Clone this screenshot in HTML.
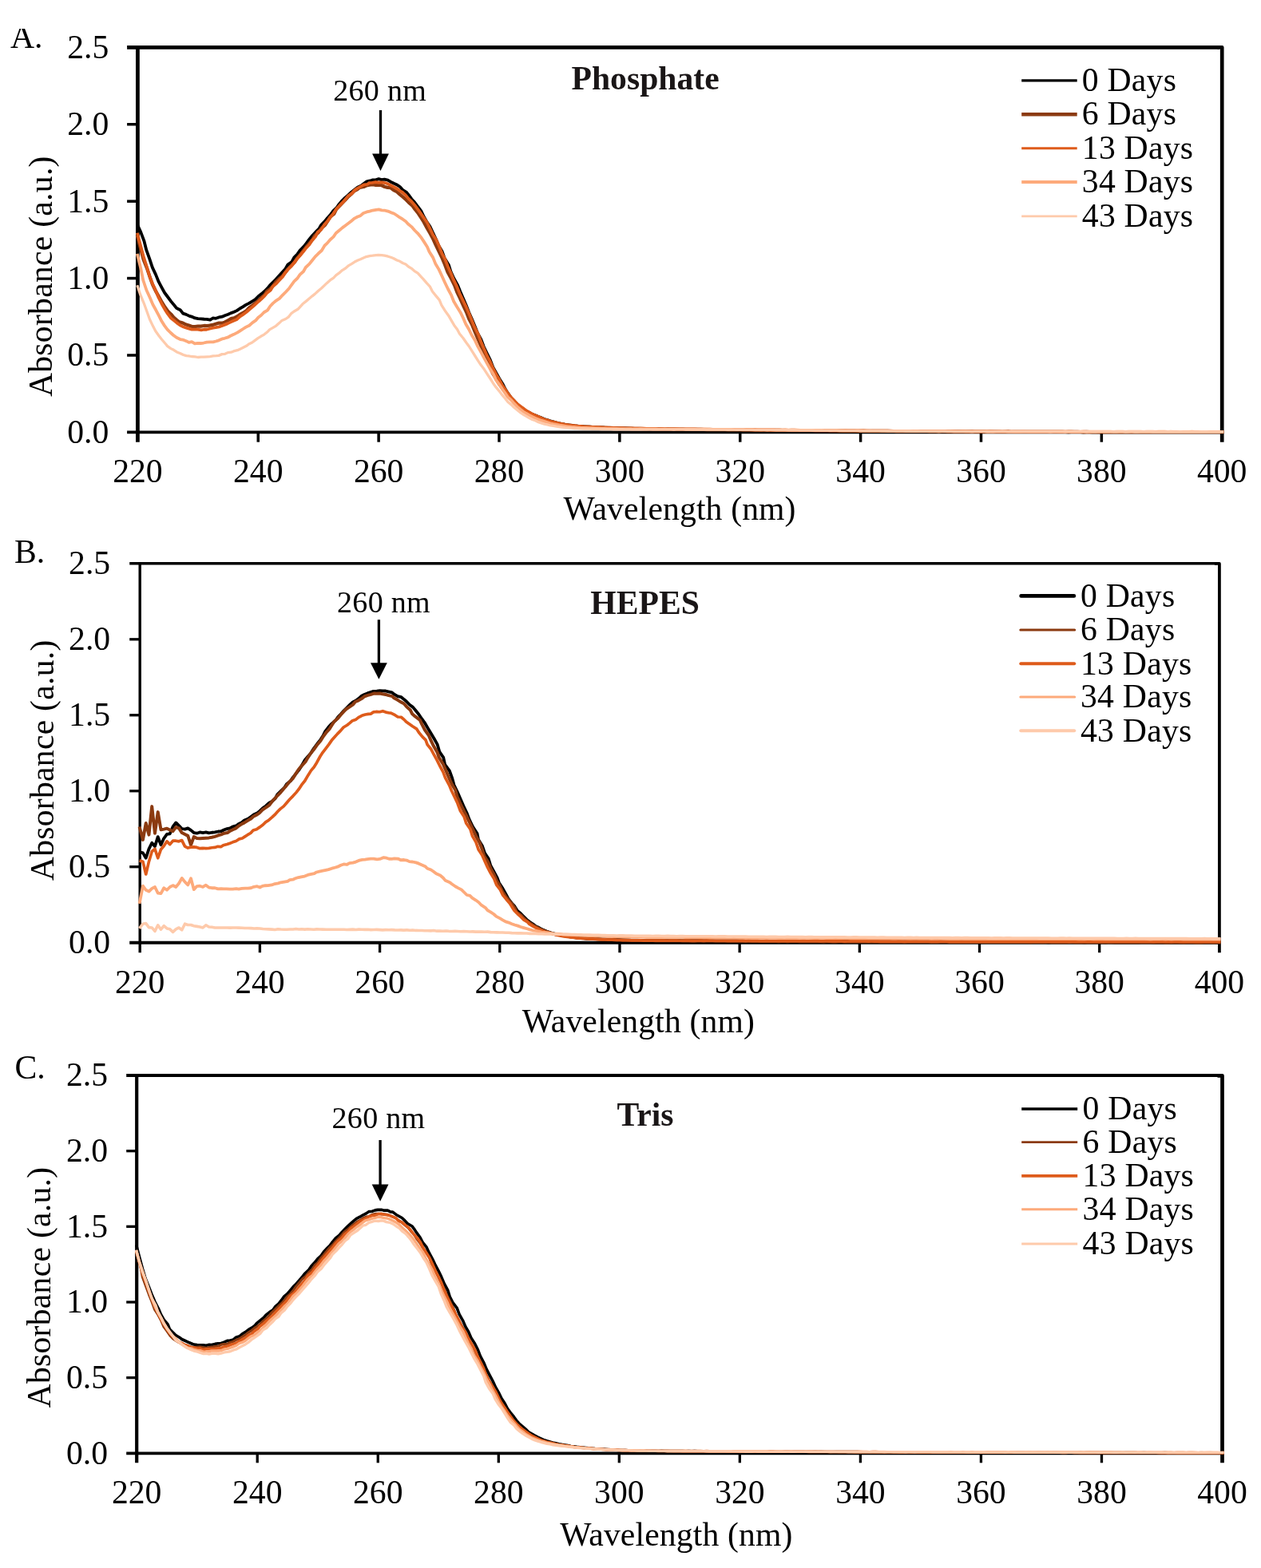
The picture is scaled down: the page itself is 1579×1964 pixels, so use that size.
<!DOCTYPE html>
<html lang="en">
<head>
<meta charset="utf-8">
<title>UV absorbance spectra in Phosphate, HEPES and Tris buffers</title>
<style>
html, body { margin: 0; padding: 0; background: #ffffff; }
body { width: 1579px; height: 1964px; overflow: hidden; }
svg { display: block; }
svg text { font-family: "Liberation Serif", serif; }
</style>
</head>
<body>
<svg width="1579" height="1964" viewBox="0 0 1579 1964">
<rect x="0" y="0" width="1579" height="1964" fill="#ffffff"/>
<g id="panel-A">
<g stroke="#000" fill="none" stroke-linecap="butt">
<line x1="172.4" y1="59.3" x2="172.4" y2="553.7" stroke-width="4.8"/>
<line x1="159.1" y1="541.4" x2="1530.2" y2="541.4" stroke-width="3.6"/>
<line x1="159.1" y1="59.3" x2="1527.2" y2="59.3" stroke-width="4.8"/>
<path d="M1524.2 59.25 H1530.2 V553.7" stroke-width="4.7" stroke-linejoin="round"/>
<line x1="159.1" y1="444.98" x2="172.4" y2="444.98" stroke-width="3.5"/>
<line x1="159.1" y1="348.56" x2="172.4" y2="348.56" stroke-width="3.5"/>
<line x1="159.1" y1="252.14" x2="172.4" y2="252.14" stroke-width="3.5"/>
<line x1="159.1" y1="155.72" x2="172.4" y2="155.72" stroke-width="3.5"/>
<line x1="323.27" y1="541.4" x2="323.27" y2="553.7" stroke-width="3.5"/>
<line x1="474.13" y1="541.4" x2="474.13" y2="553.7" stroke-width="3.5"/>
<line x1="625" y1="541.4" x2="625" y2="553.7" stroke-width="3.5"/>
<line x1="775.87" y1="541.4" x2="775.87" y2="553.7" stroke-width="3.5"/>
<line x1="926.73" y1="541.4" x2="926.73" y2="553.7" stroke-width="3.5"/>
<line x1="1077.6" y1="541.4" x2="1077.6" y2="553.7" stroke-width="3.5"/>
<line x1="1228.47" y1="541.4" x2="1228.47" y2="553.7" stroke-width="3.5"/>
<line x1="1379.33" y1="541.4" x2="1379.33" y2="553.7" stroke-width="3.5"/>
</g>
<g fill="none" stroke-linejoin="round" stroke-linecap="butt">
<path d="M171.8 281.03 L176.21 290.65 L180.47 301.97 L183.29 313.17 L187.31 324.33 L190.86 335.08 L195.01 343.89 L198.67 352.98 L202.63 360.41 L206.15 366.75 L210.29 372.24 L214.25 377.6 L217.72 381.8 L221.2 386.08 L225.71 388.17 L229.16 392.64 L233.09 393.89 L237.2 395.9 L240.91 396.93 L244.28 398.49 L247.94 399.09 L251.57 399.39 L255.74 399.75 L258.84 399.79 L263.2 400.62 L266.51 398.48 L270.3 398.83 L274.05 397.46 L278.12 396.65 L281.46 395.23 L285.69 393.76 L289.18 392.1 L292.95 390.8 L296.48 389.1 L300.66 386.22 L304 384.37 L307.81 381.89 L311.82 379.88 L315.59 377.58 L319.62 375.09 L323.38 371.21 L327.45 368.08 L331.01 365.07 L334.94 361.23 L337.97 357.46 L342.14 353.25 L345.57 349.8 L349.6 345.34 L353.48 341.11 L357.4 336.79 L360.27 331.65 L365.37 327.94 L368.37 322.35 L372.4 318.43 L375.48 313.82 L380.34 308.89 L383.51 304.83 L387.51 299.39 L390.98 295.22 L395.19 290.67 L399.35 286.59 L402.16 281.78 L406.47 277.36 L410.12 272.97 L413.68 269.02 L417.1 264.43 L421.79 259.78 L424.48 255.93 L428.65 251.03 L431.83 247.93 L436.27 244.23 L440 240.67 L443.71 237.74 L447.63 234.78 L451.97 232.65 L455.49 230.02 L459.21 227.37 L463.42 226.46 L466.86 225.33 L470.5 225.37 L474.21 224.11 L477.68 225.14 L481.38 224.72 L485.59 225.69 L489.04 227.68 L493.26 229.77 L496.52 231.17 L500.86 234.04 L504.15 237.73 L509.02 240.84 L511.87 244.4 L515.3 249.16 L519.31 253.58 L523.13 258.79 L527.23 264.06 L530.73 271.48 L534.03 277.18 L538.47 283.89 L541.84 290.97 L545.87 299.56 L549.19 307.53 L553.48 314.62 L556.45 323 L561.79 331.67 L564.43 340.06 L568.25 348.44 L573.2 357.38 L576.2 364.88 L579.79 373.19 L583.66 382.18 L587.14 391.25 L590.94 399.83 L594.64 408.63 L598.16 417.46 L602.47 425.44 L605.88 434.52 L610.01 443.07 L613.97 451.18 L617.41 460.12 L621.19 466.88 L625.22 474.21 L629.18 480.47 L632.66 487.33 L635.89 492.44 L640.14 498.35 L643.91 502.18 L647.5 506.5 L651.32 509.9 L655.37 512.77 L659.32 515.21 L662.76 517 L666.57 519.05 L670.12 520.37 L674.16 522.03 L678.05 523.39 L681.63 524.97 L685.36 526.09 L689.14 527.34 L692.79 528.31 L696.64 529.44 L700.48 530.32 L704.18 531.06 L708 531.79 L711.77 532.33 L715.47 532.95 L719.24 533.38 L723.07 533.67 L726.91 534.09 L730.74 534.38 L734.4 534.53 L738.27 534.75 L741.87 535.01 L745.69 535.19 L749.51 535.33 L753.22 535.47 L756.99 535.72 L760.77 535.84 L764.54 535.95 L768.32 536.06 L772.06 536.18 L775.87 536.29 L779.63 536.46 L783.5 536.5 L787.18 536.6 L790.95 536.79 L794.69 536.86 L798.42 536.88 L802.24 536.91 L806.07 537.04 L809.82 537.18 L813.52 537.24 L817.43 537.27 L821.1 537.31 L824.86 537.39 L828.63 537.49 L832.51 537.52 L836.23 537.57 L839.95 537.64 L843.75 537.64 L847.58 537.78 L851.26 537.84 L855.07 537.82 L858.85 537.89 L862.57 537.94 L866.33 538.01 L870.13 537.93 L873.94 538.11 L877.78 538.18 L881.51 538.23 L885.26 538.17 L888.97 538.31 L892.76 538.3 L896.61 538.42 L900.36 538.38 L904.06 538.41 L907.89 538.52 L911.64 538.55 L915.49 538.62 L919.22 538.57 L922.98 538.6 L926.78 538.72 L930.47 538.74 L934.3 538.77 L938.06 538.79 L941.83 538.81 L945.63 538.93 L949.4 538.94 L953.23 538.98 L956.91 538.99 L960.64 538.99 L964.47 539.03 L968.25 539.13 L972.05 539.16 L975.75 539.18 L979.57 539.21 L983.38 539.25 L987.12 539.22 L990.82 539.38 L994.57 539.32 L998.45 539.45 L1002.12 539.36 L1005.92 539.45 L1009.74 539.44 L1013.44 539.45 L1017.28 539.45 L1021.05 539.52 L1024.83 539.55 L1028.53 539.55 L1032.32 539.65 L1036.07 539.76 L1039.93 539.66 L1043.71 539.75 L1047.37 539.75 L1051.24 539.77 L1055 539.85 L1058.79 539.8 L1062.45 539.79 L1066.26 539.87 L1070.01 539.9 L1073.76 539.86 L1077.68 539.93 L1081.37 539.92 L1085.13 540.06 L1089 540 L1092.65 540.04 L1096.47 540.02 L1100.25 540.13 L1104 540.14 L1107.8 540.15 L1111.56 540.16 L1115.36 540.19 L1119.14 540.15 L1122.82 540.17 L1126.54 540.18 L1130.38 540.24 L1134.2 540.32 L1137.99 540.29 L1141.75 540.28 L1145.54 540.36 L1149.21 540.36 L1153.01 540.41 L1156.73 540.43 L1160.6 540.39 L1164.4 540.44 L1168.07 540.39 L1171.87 540.43 L1175.7 540.49 L1179.46 540.46 L1183.18 540.54 L1186.89 540.52 L1190.73 540.51 L1194.45 540.64 L1198.34 540.59 L1202.04 540.61 L1205.79 540.68 L1209.54 540.64 L1213.39 540.65 L1217.12 540.7 L1220.83 540.7 L1224.72 540.71 L1228.48 540.73 L1232.29 540.74 L1235.93 540.86 L1239.76 540.79 L1243.56 540.8 L1247.38 540.75 L1251.01 540.82 L1254.84 540.84 L1258.69 540.81 L1262.42 540.94 L1266.24 540.84 L1269.89 540.8 L1273.71 540.92 L1277.47 540.94 L1281.26 540.98 L1284.99 541.06 L1288.85 540.95 L1292.56 541.02 L1296.37 540.94 L1300.16 541.04 L1303.95 541.01 L1307.67 541.14 L1311.35 541.1 L1315.22 541 L1319.03 541.1 L1322.75 541.08 L1326.54 541.07 L1330.24 541.15 L1334.02 541.14 L1337.91 541.23 L1341.55 541.17 L1345.45 541.18 L1349.11 541.09 L1352.93 541.2 L1356.7 541.25 L1360.48 541.15 L1364.21 541.22 L1367.99 541.34 L1371.76 541.27 L1375.57 541.28 L1379.4 541.25 L1383.08 541.29 L1386.87 541.34 L1390.57 541.34 L1394.4 541.32 L1398.21 541.28 L1401.99 541.41 L1405.71 541.38 L1409.56 541.29 L1413.34 541.3 L1417.12 541.37 L1420.78 541.42 L1424.59 541.31 L1428.38 541.38 L1432.14 541.33 L1435.88 541.38 L1439.63 541.37 L1443.45 541.42 L1447.22 541.39 L1450.95 541.44 L1454.78 541.35 L1458.49 541.36 L1462.35 541.36 L1466.09 541.38 L1469.83 541.39 L1473.67 541.43 L1477.39 541.33 L1481.34 541.33 L1484.97 541.42 L1488.66 541.4 L1492.53 541.43 L1496.3 541.34 L1500.08 541.41 L1503.73 541.4 L1507.54 541.36 L1511.41 541.35 L1515.05 541.33 L1518.83 541.41 L1522.63 541.32 L1526.4 541.36 L1532.25 541.35" stroke="#000000" stroke-width="3.8"/>
<path d="M171.8 294.61 L175.94 310.91 L179.69 325.25 L184.27 336.85 L187.9 347.65 L190.9 356.15 L194.84 364.36 L199.03 371.7 L202.8 378.64 L206.3 384.33 L210.37 389.9 L214.07 393.43 L217.53 397.58 L221.34 400.87 L224.62 403.34 L228.97 404.53 L232.99 406.58 L236.33 407.55 L240.38 409.05 L244.19 409.07 L248.01 408.53 L251.38 408.61 L255.64 407.96 L259.49 408.03 L262.54 407.59 L266.48 406.9 L270 405.71 L274.26 404.56 L278.31 404.69 L281.79 403.43 L285.6 401.24 L289.32 399.16 L293.02 398.41 L296.87 396.49 L300.45 393.81 L304.71 391.75 L308.45 389.13 L311.7 385.79 L315.89 382.75 L319.54 379.92 L323.59 376.62 L327.38 372.57 L331.27 369.68 L333.91 365.25 L338.55 361.68 L342.08 357.93 L345.36 353.25 L349.32 349.42 L353.91 345.52 L357.52 340.88 L360.62 336.88 L364.4 332.98 L369.11 328.07 L372.09 323.33 L376.22 318.78 L379.79 314.09 L383 309.91 L387.31 304.83 L391.46 299.87 L393.96 295.33 L398.79 291.16 L402.08 286.37 L406.89 281.98 L410.68 276.31 L413.21 271.88 L418.31 267.89 L421.14 262.06 L425.05 258.12 L429.11 253.82 L432.78 250.01 L436.29 246.19 L440.65 242.41 L443.81 239.06 L447.62 237.12 L450.41 234.94 L455.47 234 L458.65 232.55 L462.46 231.79 L466.68 231.17 L469.76 231.8 L474.12 231.81 L477.66 231.99 L481.78 234.01 L485.32 234.87 L489.17 235.28 L492.83 238.07 L497 240.26 L500.17 243.12 L503.9 246.24 L507.56 249.33 L511.73 253.6 L516.15 257.4 L519.64 262.26 L523.26 266.59 L527.04 272.39 L530.58 278 L534.34 284.91 L538.24 291.84 L542.42 299.53 L545.82 307.14 L549.67 315.12 L553.66 323.39 L557.04 331.39 L560.53 340.71 L564.88 348.81 L569.18 357.45 L572.14 365.57 L575.89 373.38 L580.05 382.58 L583.93 390.76 L587.19 399.25 L591.36 407.41 L594.68 415.77 L598.71 425.24 L602.07 433.3 L606.22 442.58 L609.45 450.97 L613.09 458.87 L617.01 467.64 L620.82 473.91 L624.82 480.59 L628.72 486.14 L632.4 490.71 L636.57 495.94 L639.96 500.21 L643.76 503 L647.51 506.29 L650.91 509.08 L654.74 511.99 L658.49 514.45 L662.62 516.86 L666.39 518.83 L670.72 520.76 L674.2 522.24 L677.94 523.83 L681.3 525.68 L685.6 527.01 L689.18 528.14 L693.01 528.82 L696.55 529.83 L700.28 530.7 L704.13 531.28 L708.05 531.96 L711.7 532.48 L715.49 532.9 L719.34 533.53 L723.01 533.84 L726.76 534.06 L730.63 534.4 L734.43 534.65 L738.15 534.84 L741.91 535.01 L745.72 535.22 L749.51 535.38 L753.16 535.54 L757.07 535.68 L760.82 535.81 L764.59 535.94 L768.32 536.09 L772.18 536.22 L775.86 536.27 L779.59 536.42 L783.37 536.52 L787.17 536.65 L790.99 536.69 L794.72 536.79 L798.59 536.95 L802.28 536.93 L806.06 537.11 L809.88 537.01 L813.59 537.18 L817.38 537.21 L821.18 537.24 L825.01 537.38 L828.65 537.41 L832.44 537.46 L836.19 537.46 L839.94 537.57 L843.73 537.53 L847.55 537.61 L851.26 537.65 L855.06 537.71 L858.78 537.79 L862.57 537.74 L866.4 537.86 L870.12 537.91 L873.9 537.9 L877.71 537.94 L881.5 537.99 L885.3 538.1 L889.02 538.06 L892.82 538.12 L896.56 538.14 L900.3 538.18 L904.13 538.26 L907.83 538.25 L911.64 538.29 L915.46 538.31 L919.21 538.36 L922.99 538.49 L926.73 538.51 L930.51 538.54 L934.26 538.55 L938.07 538.62 L941.86 538.63 L945.55 538.61 L949.36 538.68 L953.08 538.78 L956.93 538.75 L960.61 538.74 L964.42 538.84 L968.21 538.84 L972.02 538.9 L975.79 538.97 L979.55 538.98 L983.31 539.04 L987.06 539.01 L990.75 539.04 L994.55 539.05 L998.44 539.14 L1002.2 539.2 L1006 539.15 L1009.64 539.2 L1013.48 539.19 L1017.24 539.22 L1021.02 539.32 L1024.8 539.35 L1028.61 539.4 L1032.33 539.41 L1036.11 539.35 L1039.94 539.48 L1043.69 539.52 L1047.41 539.52 L1051.11 539.51 L1054.89 539.54 L1058.74 539.64 L1062.46 539.64 L1066.33 539.7 L1070.08 539.66 L1073.91 539.73 L1077.62 539.64 L1081.34 539.72 L1085.17 539.75 L1088.89 539.81 L1092.67 539.84 L1096.48 539.85 L1100.29 539.93 L1104.02 539.85 L1107.76 539.95 L1111.48 539.88 L1115.38 540.02 L1119.17 540.01 L1122.76 540.14 L1126.64 540.02 L1130.42 540.1 L1134.22 540.05 L1137.95 540.13 L1141.7 540.15 L1145.51 540.08 L1149.27 540.15 L1153.08 540.11 L1156.88 540.17 L1160.61 540.27 L1164.35 540.29 L1168.13 540.3 L1171.84 540.26 L1175.53 540.31 L1179.37 540.34 L1183.18 540.27 L1186.99 540.36 L1190.73 540.37 L1194.54 540.48 L1198.27 540.47 L1202.1 540.45 L1205.84 540.5 L1209.6 540.53 L1213.43 540.47 L1217.13 540.56 L1220.82 540.56 L1224.68 540.53 L1228.49 540.52 L1232.33 540.53 L1236.04 540.51 L1239.81 540.6 L1243.51 540.68 L1247.19 540.62 L1251.06 540.57 L1254.86 540.73 L1258.61 540.7 L1262.42 540.69 L1266.24 540.73 L1269.92 540.78 L1273.65 540.78 L1277.52 540.79 L1281.28 540.73 L1285.07 540.74 L1288.8 540.81 L1292.6 540.91 L1296.38 540.83 L1300.17 540.87 L1303.94 540.82 L1307.62 540.9 L1311.38 540.86 L1315.13 540.89 L1318.89 540.91 L1322.65 540.87 L1326.51 540.95 L1330.33 540.92 L1334.01 540.98 L1337.88 540.9 L1341.58 540.95 L1345.36 540.96 L1349.12 540.97 L1352.92 541.01 L1356.7 541.03 L1360.5 540.91 L1364.21 541.05 L1368.08 541.03 L1371.81 541.09 L1375.63 541.11 L1379.38 541.04 L1383.09 541.02 L1386.9 541.11 L1390.7 541.05 L1394.41 541.11 L1398.18 541.08 L1401.95 541.12 L1405.72 541.09 L1409.53 541.13 L1413.31 541.08 L1417.03 541.06 L1420.77 541.03 L1424.59 541.15 L1428.45 541.16 L1432.14 541.11 L1435.87 541.14 L1439.68 541.1 L1443.43 541.14 L1447.19 541.18 L1450.97 541.21 L1454.71 541.19 L1458.59 541.15 L1462.33 541.19 L1466.07 541.19 L1469.82 541.12 L1473.6 541.16 L1477.32 541.17 L1481.17 541.21 L1484.87 541.18 L1488.79 541.08 L1492.47 541.16 L1496.27 541.1 L1500.05 541.23 L1503.76 541.19 L1507.48 541.15 L1511.33 541.26 L1515.09 541.17 L1518.96 541.21 L1522.7 541.21 L1526.36 541.2 L1532.25 541.22" stroke="#8b3a10" stroke-width="4.2"/>
<path d="M171.8 291.69 L176.15 308.05 L179.92 322.21 L184.06 334.97 L187.33 346.13 L191.03 355.54 L195.44 364.94 L198.54 372.73 L202.46 380.45 L206.37 387.44 L209.9 392.98 L213.79 398.23 L218.33 401.77 L221.45 404.39 L225.02 407.01 L228.51 408.95 L232.62 410.43 L235.76 411.42 L240.11 412.54 L244.18 412.63 L247.5 412.7 L252.06 413.39 L255.5 412.75 L258.6 412.73 L263.48 411.47 L265.72 410.84 L270.07 410.18 L274.25 409.33 L277.52 408.3 L282.21 406.38 L285.24 405.13 L289.61 403.11 L293.71 401.33 L296.74 399.96 L300.62 396.38 L303.76 394.39 L308.37 391.05 L311.58 388.25 L316.27 384.35 L319.13 381.81 L323.65 377.71 L327.24 374.62 L331.29 370.7 L333.92 367.35 L338.78 363.47 L341.74 358.6 L345.91 355.32 L349.75 351.08 L354.1 346.37 L356.72 342.29 L360.94 337.14 L364.94 333.36 L368.58 328.71 L371.76 324.63 L375.98 319.74 L379.73 315.33 L383.49 310.43 L387.32 306.54 L390.7 301.24 L395.18 296.31 L397.76 290.84 L402.25 287.62 L405.58 282.13 L410.09 277.06 L413.62 272.49 L417.05 267.82 L421.02 262.07 L425.21 257.41 L429.32 253.4 L432.59 249.59 L436.16 245.34 L440.46 242.39 L444 238.38 L447.12 236.1 L451.6 233.61 L455.59 231.29 L459.85 230.93 L462.36 229.11 L466.07 228.89 L470.38 228.02 L474.04 228.64 L477.68 228.39 L482.15 229.09 L486.19 230.57 L489.33 232.26 L493.55 234.39 L497.24 236.52 L500.3 238.84 L504.22 241.02 L508.33 244.93 L511.5 248.84 L515.22 252.26 L519.48 257.16 L523.19 262.09 L526.96 267.39 L530.42 272.41 L534.96 278.97 L538.14 285.59 L542.02 293.69 L546.34 300.58 L549.71 308.08 L553.53 317.54 L557.47 324.98 L560.83 333.79 L564.46 341.77 L568.14 350.66 L571.93 358.38 L575.49 367.32 L579.44 375.6 L583.73 384.4 L587.47 393.02 L590.73 401.03 L594.13 409.43 L598.79 418.53 L602.39 428.23 L605.86 436.35 L609.71 445.19 L613.76 452.91 L617.47 461.41 L621.6 469.44 L625.44 475.85 L628.88 482.27 L632.89 488.13 L636.36 493.2 L639.98 497.69 L643.83 501.83 L647.75 505.9 L651.5 508.8 L655.68 511.87 L658.96 514.4 L663.08 516.58 L666.58 518.78 L670.25 520.52 L674.18 522.09 L677.91 523.73 L681.43 525.38 L685.61 526.32 L689.2 527.74 L692.91 528.5 L696.53 529.43 L700.57 530.47 L704.22 531.05 L707.97 531.8 L711.74 532.28 L715.54 532.88 L719.28 533.24 L723.07 533.69 L726.83 533.97 L730.64 534.36 L734.39 534.62 L738.17 534.75 L741.84 534.85 L745.62 535.12 L749.5 535.24 L753.21 535.39 L757.06 535.58 L760.74 535.7 L764.63 535.82 L768.41 535.94 L772.02 536.08 L775.78 536.15 L779.7 536.24 L783.41 536.31 L787.2 536.37 L790.93 536.45 L794.8 536.59 L798.49 536.63 L802.27 536.68 L806.01 536.73 L809.72 536.82 L813.67 536.88 L817.37 536.98 L821.13 537.01 L824.88 537.06 L828.63 536.98 L832.44 537.12 L836.23 537.17 L839.9 537.19 L843.71 537.22 L847.54 537.27 L851.32 537.36 L855.09 537.34 L858.8 537.38 L862.65 537.46 L866.43 537.48 L870.18 537.49 L873.94 537.54 L877.69 537.63 L881.57 537.63 L885.21 537.68 L888.96 537.75 L892.77 537.8 L896.56 537.81 L900.28 537.79 L904.16 537.93 L907.89 537.87 L911.65 537.95 L915.44 537.96 L919.17 537.99 L922.97 538.03 L926.71 538.1 L930.49 538.14 L934.3 538.16 L938.03 538.2 L941.78 538.25 L945.56 538.25 L949.38 538.32 L953.11 538.38 L956.89 538.34 L960.61 538.49 L964.44 538.5 L968.26 538.52 L972.01 538.54 L975.8 538.65 L979.57 538.61 L983.29 538.61 L987.16 538.79 L990.85 538.77 L994.58 538.73 L998.44 538.79 L1002.24 538.87 L1005.97 538.87 L1009.72 538.85 L1013.51 538.96 L1017.25 538.98 L1021.06 539.04 L1024.8 539.11 L1028.53 539.04 L1032.34 539.18 L1036.1 539.17 L1039.88 539.25 L1043.71 539.29 L1047.43 539.21 L1051.18 539.32 L1054.95 539.31 L1058.65 539.27 L1062.54 539.4 L1066.21 539.33 L1070.03 539.46 L1073.8 539.49 L1077.55 539.5 L1081.35 539.52 L1085.12 539.54 L1088.84 539.63 L1092.73 539.65 L1096.4 539.6 L1100.28 539.63 L1103.9 539.71 L1107.7 539.69 L1111.55 539.73 L1115.3 539.77 L1119.09 539.82 L1122.86 539.82 L1126.7 539.87 L1130.39 539.83 L1134.2 539.9 L1137.94 539.94 L1141.71 539.97 L1145.43 540 L1149.17 540.04 L1153.04 540.07 L1156.82 540.11 L1160.54 540.09 L1164.24 540.14 L1168.06 540.1 L1171.88 540.07 L1175.71 540.16 L1179.43 540.15 L1183.17 540.22 L1186.95 540.25 L1190.74 540.34 L1194.45 540.24 L1198.28 540.36 L1202.07 540.33 L1205.85 540.25 L1209.63 540.28 L1213.46 540.31 L1217.14 540.34 L1220.96 540.4 L1224.7 540.45 L1228.48 540.48 L1232.24 540.45 L1235.98 540.45 L1239.69 540.39 L1243.56 540.49 L1247.37 540.53 L1251.19 540.52 L1254.82 540.55 L1258.63 540.57 L1262.45 540.49 L1266.18 540.55 L1269.95 540.64 L1273.63 540.58 L1277.42 540.58 L1281.26 540.61 L1285.08 540.57 L1288.74 540.66 L1292.57 540.64 L1296.38 540.68 L1300.1 540.61 L1303.9 540.72 L1307.61 540.64 L1311.5 540.64 L1315.15 540.69 L1318.95 540.71 L1322.76 540.65 L1326.51 540.73 L1330.27 540.75 L1334.14 540.75 L1337.86 540.71 L1341.62 540.75 L1345.35 540.84 L1349.23 540.85 L1352.94 540.83 L1356.75 540.73 L1360.47 540.88 L1364.15 540.79 L1368.08 540.81 L1371.8 540.84 L1375.62 540.89 L1379.38 540.85 L1383.11 540.83 L1386.86 540.88 L1390.64 540.86 L1394.34 540.87 L1398.29 540.83 L1402.02 540.87 L1405.75 540.89 L1409.47 540.97 L1413.23 540.93 L1417.04 540.91 L1420.8 540.93 L1424.63 540.89 L1428.35 540.89 L1432.09 540.91 L1435.92 541 L1439.71 540.96 L1443.42 540.91 L1447.21 540.95 L1450.99 540.93 L1454.79 540.97 L1458.51 540.94 L1462.23 540.99 L1466.14 540.95 L1469.91 540.94 L1473.65 540.93 L1477.33 540.95 L1481.1 540.93 L1484.98 541.07 L1488.73 540.96 L1492.48 541 L1496.24 540.98 L1500.01 541 L1503.8 541.07 L1507.56 540.97 L1511.31 541.05 L1515.11 540.98 L1518.92 541.06 L1522.68 541 L1526.39 540.98 L1532.25 541" stroke="#de5b1b" stroke-width="3.8"/>
<path d="M171.8 317.9 L176.3 336.39 L179.36 351.26 L183.45 363.52 L187.81 373 L191.41 381.47 L195.33 388.53 L199.19 395.93 L202.27 402.02 L205.95 407.87 L209.7 412.82 L213.62 416.78 L217.27 420.04 L221.04 422.78 L225.69 425.03 L228.93 425.56 L233.22 427.17 L236.52 428.94 L240.17 428.24 L243.91 430.46 L247.55 429.92 L251.34 430.02 L255 429.51 L259.01 428.65 L263.32 428.42 L266.85 428.37 L270.29 427.5 L273.94 426.33 L278.16 424.4 L281.11 423.77 L285.68 422.44 L288.47 420.75 L292.76 418.85 L297.53 416.41 L300.3 414.69 L304.34 412.01 L308.06 409.63 L312.09 407.72 L316.2 404.1 L320.15 401.4 L323.26 397.73 L327.16 394.7 L330.49 391.25 L334.96 388.63 L338.35 383.52 L341.79 379.89 L346.09 376.29 L349.94 373.84 L353.93 369.53 L358.01 365.51 L362.01 361.27 L364.74 357.26 L368.35 352.31 L372.46 348.5 L375.62 343.91 L379.99 339.97 L382.73 334.99 L387.35 330.7 L390.66 326.46 L394.76 321.31 L398.37 317.77 L402.84 313.77 L406.57 307.47 L409.74 304.64 L413.42 300.23 L417.54 296.67 L420.69 291.96 L424.61 288.75 L428.91 285.12 L432.51 282.48 L436.78 279.31 L439.8 276.9 L443.83 273.59 L447.72 271.52 L451.35 270.17 L455 267.02 L459.25 265.46 L462.94 264.62 L466.44 263.54 L470.83 262.84 L474.34 262.43 L478.08 263.35 L482.25 263.73 L485.75 264.62 L489.36 266.12 L493.37 267.51 L496.83 269.74 L500.3 272.2 L504.41 274.74 L508.01 277.31 L510.94 280.47 L515.38 284.1 L519.2 288.51 L523.13 292.34 L527.42 297.41 L530.79 302.64 L535 309.23 L537.52 315.15 L542.2 322.63 L545.21 330.17 L549.5 337.38 L553.28 345.57 L557 353.67 L560.99 361.98 L564.95 369.31 L568.16 377.46 L572.02 383.99 L576.51 391.16 L580.19 398.8 L583.31 406.07 L587.29 412.72 L590.73 419.75 L595.18 427.09 L598.28 433.9 L602.56 441.55 L606.03 448.18 L609.72 454.83 L613.87 462.38 L617.85 468.69 L620.86 475.6 L624.97 481.27 L629.27 487.8 L632.15 491.82 L635.89 497.37 L640.14 501.26 L643.79 505.39 L647.64 509.33 L651.58 512.72 L655.1 515.49 L658.76 517.77 L662.6 519.89 L666.48 521.86 L670.12 523.74 L673.88 525.2 L677.67 526.66 L681.62 527.87 L685.18 528.95 L689.11 530.3 L692.8 531.14 L696.65 531.87 L700.45 532.68 L704.19 533.23 L708.04 533.76 L711.77 534.27 L715.53 534.73 L719.2 535.01 L723.04 535.33 L726.82 535.64 L730.52 535.81 L734.38 535.97 L738.2 536.11 L741.95 536.24 L745.67 536.35 L749.48 536.47 L753.23 536.56 L757.02 536.63 L760.81 536.87 L764.53 536.91 L768.29 536.91 L772.12 536.94 L775.85 537.03 L779.65 537.15 L783.41 537.15 L787.21 537.15 L790.97 537.27 L794.64 537.3 L798.54 537.39 L802.19 537.27 L806 537.37 L809.83 537.46 L813.64 537.42 L817.37 537.48 L821.17 537.45 L824.91 537.57 L828.68 537.63 L832.45 537.52 L836.21 537.6 L840 537.59 L843.89 537.56 L847.55 537.53 L851.32 537.68 L855 537.67 L858.85 537.72 L862.73 537.63 L866.41 537.75 L870.15 537.75 L873.98 537.78 L877.65 537.74 L881.48 537.76 L885.23 537.82 L889.02 537.93 L892.75 537.93 L896.53 537.84 L900.31 537.87 L904.09 537.92 L907.88 537.93 L911.63 538 L915.51 538 L919.27 538.04 L922.98 538.07 L926.8 538.12 L930.54 538.16 L934.27 538.15 L937.95 538.2 L941.8 538.17 L945.54 538.3 L949.4 538.23 L953.16 538.41 L956.77 538.39 L960.71 538.33 L964.42 538.39 L968.14 538.48 L971.99 538.53 L975.85 538.48 L979.62 538.62 L983.32 538.52 L987.1 538.7 L990.84 538.64 L994.64 538.7 L998.45 538.72 L1002.13 538.81 L1005.92 538.8 L1009.71 538.83 L1013.5 538.84 L1017.3 538.91 L1021.04 538.91 L1024.71 538.95 L1028.51 539.03 L1032.25 539.05 L1036.17 539.03 L1039.88 539.14 L1043.66 539.19 L1047.33 539.2 L1051.2 539.23 L1054.97 539.31 L1058.76 539.31 L1062.53 539.33 L1066.25 539.35 L1070.07 539.44 L1073.83 539.41 L1077.65 539.51 L1081.39 539.43 L1085.16 539.52 L1088.94 539.57 L1092.71 539.67 L1096.43 539.7 L1100.27 539.63 L1104.01 539.66 L1107.71 539.63 L1111.52 539.75 L1115.37 539.78 L1119.02 539.81 L1122.87 539.78 L1126.54 539.87 L1130.43 539.85 L1134.2 539.95 L1137.92 539.97 L1141.72 540.06 L1145.48 540.02 L1149.27 540 L1153 540.09 L1156.77 540.06 L1160.6 540.14 L1164.43 540.09 L1168.06 540.19 L1171.87 540.2 L1175.65 540.23 L1179.39 540.18 L1183.19 540.21 L1186.97 540.21 L1190.8 540.21 L1194.49 540.32 L1198.26 540.33 L1202.04 540.39 L1205.89 540.28 L1209.57 540.43 L1213.32 540.36 L1217.17 540.44 L1220.85 540.39 L1224.75 540.44 L1228.46 540.4 L1232.25 540.47 L1235.95 540.52 L1239.77 540.44 L1243.66 540.55 L1247.36 540.46 L1251.09 540.43 L1254.91 540.56 L1258.68 540.5 L1262.39 540.53 L1266.22 540.55 L1270.01 540.65 L1273.77 540.59 L1277.53 540.56 L1281.22 540.51 L1285.04 540.58 L1288.75 540.63 L1292.59 540.56 L1296.36 540.63 L1300.16 540.7 L1303.89 540.66 L1307.69 540.65 L1311.52 540.62 L1315.24 540.73 L1318.99 540.69 L1322.76 540.61 L1326.55 540.69 L1330.28 540.7 L1334.02 540.63 L1337.84 540.67 L1341.66 540.67 L1345.34 540.59 L1349.17 540.69 L1352.97 540.71 L1356.65 540.7 L1360.44 540.7 L1364.21 540.71 L1368.07 540.73 L1371.78 540.66 L1375.55 540.62 L1379.35 540.67 L1383.13 540.61 L1386.89 540.68 L1390.61 540.72 L1394.41 540.85 L1398.22 540.75 L1401.88 540.66 L1405.78 540.71 L1409.42 540.78 L1413.26 540.69 L1417.03 540.69 L1420.87 540.75 L1424.65 540.75 L1428.4 540.76 L1432.14 540.81 L1435.88 540.72 L1439.66 540.76 L1443.42 540.73 L1447.19 540.78 L1450.99 540.74 L1454.74 540.77 L1458.58 540.72 L1462.31 540.79 L1466.08 540.75 L1469.89 540.84 L1473.66 540.82 L1477.36 540.78 L1481.13 540.8 L1484.95 540.8 L1488.76 540.78 L1492.5 540.71 L1496.22 540.86 L1500.03 540.85 L1503.74 540.81 L1507.51 540.81 L1511.32 540.84 L1515.11 540.9 L1518.92 540.88 L1522.54 540.84 L1526.46 540.87 L1532.25 540.85" stroke="#fdaa7b" stroke-width="3.8"/>
<path d="M171.8 357.23 L175.8 369.22 L180.29 380.05 L183.98 390.28 L187.36 399.79 L191.08 407.61 L194.65 414.57 L199.07 420.73 L202.62 425.26 L206.71 429.97 L209.71 433.62 L213.97 436.62 L217.48 438.35 L221.42 440.98 L225.39 442.47 L229.66 444.49 L233.32 445.69 L236.16 445.82 L239.62 446.5 L244.36 446.8 L247.95 447.5 L251.63 447.17 L255.09 447.07 L259.87 446.79 L262.96 446.55 L267 445.91 L270.82 445.7 L273.86 445.38 L278.03 443.63 L281.78 443.35 L285.3 441.64 L289.45 441.21 L292.47 439.89 L297.35 438.68 L300.66 437.15 L304.62 435.23 L308.52 433.31 L311.56 431.02 L315.74 428.95 L318.92 426.58 L322.95 423.59 L326.68 421.29 L330.68 419.07 L334.54 416.05 L337.53 412.86 L341.48 410.62 L345.76 408.09 L349.72 404.59 L353.02 401.42 L357.69 399.51 L361.14 397.15 L364.43 392.92 L367.91 390.23 L373.02 387.3 L376.02 384.06 L378.94 380.82 L383.84 376.85 L386.87 374.33 L391.03 370.85 L394.44 368.13 L398.34 364.49 L402.57 361.05 L406.37 357.34 L409.2 354.65 L413.42 350.97 L417.59 348.1 L420.93 344.58 L424.71 341.9 L428.49 338.57 L432.69 336 L436.66 332.59 L440.55 330.3 L444.04 328.06 L448.16 325.98 L451.3 324.79 L454.66 323.3 L458.57 321.56 L462.77 320.54 L466.45 320.23 L470.94 319.7 L473.81 319.37 L477.91 319.66 L481.67 320.22 L485.97 321.21 L489.31 322.24 L492.5 323.55 L497.16 326.04 L500.75 327.3 L504.31 329.48 L508.05 331.11 L511.46 333.99 L515.05 336.07 L518.75 339.32 L523.18 342.12 L527.01 346.35 L529.85 349.38 L534.13 354.34 L538.53 359.16 L541.39 365.04 L545.93 370.63 L550.31 375.88 L552.83 382.04 L556.92 388.7 L561.59 395.16 L565.03 401.18 L568.71 407.44 L572.68 412.79 L575.4 418.01 L579.96 423.48 L583.92 429.29 L587.27 433.75 L591.3 440.21 L594.81 445.75 L598.64 451.91 L602.09 457.09 L606.29 462.54 L610.33 468.84 L613.73 474.01 L617.3 479.7 L621.22 485.19 L625.59 490.35 L628.57 494.44 L632.65 499.14 L636 503.49 L640.21 506.88 L643.62 510.25 L647.62 513.4 L651.39 516.55 L655.28 519.24 L658.62 521.09 L662.75 523.64 L666.48 525.46 L670.3 526.73 L674.17 528.68 L677.76 529.89 L681.62 531.07 L685.43 531.96 L689.05 532.85 L692.8 533.44 L696.73 534.16 L700.42 534.59 L704.15 535.16 L708 535.55 L711.74 535.83 L715.54 536.2 L719.29 536.48 L723.01 536.56 L726.72 536.9 L730.6 536.98 L734.39 537.16 L738.19 537.2 L742 537.26 L745.65 537.25 L749.52 537.34 L753.18 537.48 L756.98 537.5 L760.87 537.65 L764.54 537.69 L768.36 537.75 L772.21 537.73 L775.83 537.68 L779.61 537.73 L783.4 537.8 L787.31 537.84 L791.04 537.81 L794.76 537.85 L798.44 537.85 L802.29 537.83 L806.05 537.89 L809.85 537.88 L813.64 537.8 L817.38 537.89 L821.11 537.88 L824.95 537.82 L828.67 537.91 L832.49 537.86 L836.15 537.9 L839.99 537.9 L843.73 537.99 L847.52 537.92 L851.35 537.86 L855.03 537.87 L858.84 538 L862.64 537.93 L866.39 538.01 L870.09 537.97 L873.99 538.04 L877.63 538.02 L881.5 537.97 L885.28 538.06 L889.05 537.98 L892.76 538.07 L896.51 538.13 L900.32 538.14 L904.07 538.17 L907.87 538.14 L911.66 538.23 L915.36 538.11 L919.2 538.08 L922.96 538.25 L926.72 538.2 L930.47 538.27 L934.31 538.32 L938.01 538.31 L941.83 538.31 L945.53 538.33 L949.32 538.47 L953.11 538.47 L956.93 538.39 L960.66 538.49 L964.43 538.45 L968.26 538.44 L971.96 538.56 L975.84 538.61 L979.47 538.65 L983.37 538.6 L987.05 538.73 L990.89 538.73 L994.64 538.68 L998.42 538.79 L1002.26 538.82 L1006 538.87 L1009.72 538.91 L1013.52 538.87 L1017.28 538.99 L1021.03 539.06 L1024.8 539.09 L1028.56 538.99 L1032.42 539.08 L1036.08 539.06 L1039.87 539.24 L1043.63 539.14 L1047.55 539.19 L1051.19 539.28 L1055.04 539.35 L1058.67 539.36 L1062.41 539.31 L1066.3 539.38 L1070.09 539.36 L1073.83 539.4 L1077.59 539.49 L1081.34 539.53 L1085.16 539.55 L1088.96 539.5 L1092.69 539.63 L1096.43 539.71 L1100.19 539.64 L1104.05 539.73 L1107.8 539.73 L1111.58 539.72 L1115.38 539.8 L1119.12 539.87 L1122.86 539.89 L1126.52 539.94 L1130.4 539.92 L1134.17 539.99 L1138.02 540.01 L1141.71 539.97 L1145.51 540.05 L1149.25 540.09 L1153 540.09 L1156.83 540.12 L1160.5 540.05 L1164.28 540.2 L1168.12 540.18 L1171.92 540.17 L1175.68 540.22 L1179.5 540.19 L1183.24 540.25 L1186.91 540.3 L1190.79 540.3 L1194.47 540.33 L1198.29 540.3 L1202.07 540.33 L1205.8 540.37 L1209.59 540.33 L1213.38 540.4 L1217.17 540.53 L1220.9 540.37 L1224.61 540.4 L1228.43 540.44 L1232.23 540.44 L1235.93 540.5 L1239.8 540.54 L1243.63 540.5 L1247.23 540.49 L1251.15 540.49 L1254.85 540.44 L1258.59 540.47 L1262.46 540.53 L1266.13 540.51 L1269.95 540.54 L1273.68 540.65 L1277.48 540.61 L1281.23 540.61 L1285.02 540.55 L1288.75 540.62 L1292.58 540.6 L1296.28 540.59 L1300.09 540.57 L1303.91 540.58 L1307.69 540.6 L1311.36 540.68 L1315.21 540.62 L1319.03 540.61 L1322.76 540.66 L1326.52 540.71 L1330.3 540.63 L1334.05 540.73 L1337.79 540.66 L1341.67 540.69 L1345.37 540.7 L1349.12 540.64 L1352.99 540.61 L1356.69 540.72 L1360.51 540.73 L1364.31 540.68 L1368.1 540.68 L1371.76 540.74 L1375.52 540.7 L1379.35 540.7 L1383.06 540.67 L1386.85 540.65 L1390.63 540.67 L1394.47 540.65 L1398.28 540.7 L1402.01 540.71 L1405.73 540.62 L1409.54 540.75 L1413.33 540.74 L1417.07 540.7 L1420.89 540.73 L1424.6 540.75 L1428.37 540.68 L1432.08 540.72 L1435.86 540.68 L1439.62 540.7 L1443.44 540.74 L1447.24 540.78 L1451 540.84 L1454.74 540.8 L1458.56 540.78 L1462.27 540.74 L1466.08 540.75 L1469.83 540.78 L1473.6 540.86 L1477.39 540.76 L1481.11 540.81 L1484.95 540.8 L1488.65 540.83 L1492.5 540.8 L1496.28 540.78 L1500.1 540.84 L1503.73 540.77 L1507.54 540.77 L1511.34 540.77 L1515.13 540.81 L1518.83 540.79 L1522.63 540.87 L1526.44 540.9 L1532.25 540.86" stroke="#fecaab" stroke-width="3.3"/>
</g>
<g font-size="41.67" fill="#000">
<clipPath id="clipA"><rect x="0" y="36" width="160" height="60"/></clipPath>
<text x="13" y="59.9" clip-path="url(#clipA)">A.</text>
<text x="136.3" y="554.8" text-anchor="end">0.0</text>
<text x="136.3" y="458.38" text-anchor="end">0.5</text>
<text x="136.3" y="361.96" text-anchor="end">1.0</text>
<text x="136.3" y="265.54" text-anchor="end">1.5</text>
<text x="136.3" y="169.12" text-anchor="end">2.0</text>
<text x="136.3" y="72.7" text-anchor="end">2.5</text>
<text x="172.4" y="604.1" text-anchor="middle">220</text>
<text x="323.27" y="604.1" text-anchor="middle">240</text>
<text x="474.13" y="604.1" text-anchor="middle">260</text>
<text x="625" y="604.1" text-anchor="middle">280</text>
<text x="775.87" y="604.1" text-anchor="middle">300</text>
<text x="926.73" y="604.1" text-anchor="middle">320</text>
<text x="1077.6" y="604.1" text-anchor="middle">340</text>
<text x="1228.47" y="604.1" text-anchor="middle">360</text>
<text x="1379.33" y="604.1" text-anchor="middle">380</text>
<text x="1530.2" y="604.1" text-anchor="middle">400</text>
<text x="851" y="650.6" text-anchor="middle" letter-spacing="0.13">Wavelength (nm)</text>
<text transform="translate(65 346.2) rotate(-90)" text-anchor="middle" letter-spacing="0.27">Absorbance (a.u.)</text>
<text x="808.1" y="112.3" text-anchor="middle" font-weight="bold" fill="#1a1617">Phosphate</text>
<text x="475.7" y="126.1" text-anchor="middle" font-size="38" letter-spacing="0.3">260 nm</text>
<text x="1354.8" y="113.7" letter-spacing="0.25">0 Days</text>
<text x="1354.8" y="156.2" letter-spacing="0.25">6 Days</text>
<text x="1354.8" y="198.6" letter-spacing="0.25">13 Days</text>
<text x="1354.8" y="241" letter-spacing="0.25">34 Days</text>
<text x="1354.8" y="283.8" letter-spacing="0.25">43 Days</text>
</g>
<g fill="none" stroke-linecap="butt">
<line x1="1279.2" y1="100.8" x2="1348.7" y2="100.8" stroke="#000000" stroke-width="3.3"/>
<line x1="1279.2" y1="143.3" x2="1348.7" y2="143.3" stroke="#8b3a10" stroke-width="4.5"/>
<line x1="1279.2" y1="185.7" x2="1348.7" y2="185.7" stroke="#de5b1b" stroke-width="3"/>
<line x1="1279.2" y1="228.1" x2="1348.7" y2="228.1" stroke="#fdaa7b" stroke-width="4"/>
<line x1="1279.2" y1="270.9" x2="1348.7" y2="270.9" stroke="#fecaab" stroke-width="2.6"/>
</g>
<line x1="476.5" y1="138" x2="476.5" y2="193.6" stroke="#000" stroke-width="3.3"/>
<polygon points="466.1,192.6 486.9,192.6 476.5,213.9" fill="#000"/>
</g>
<g id="panel-B">
<g stroke="#000" fill="none" stroke-linecap="butt">
<line x1="175.2" y1="705.8" x2="175.2" y2="1193.2" stroke-width="3.4"/>
<line x1="162.2" y1="1180.7" x2="1526.9" y2="1180.7" stroke-width="4"/>
<line x1="162.2" y1="705.8" x2="1523.9" y2="705.8" stroke-width="3.6"/>
<path d="M1520.9 705.9 H1526.9 V1193.2" stroke-width="3.8" stroke-linejoin="round"/>
<line x1="162.2" y1="1085.72" x2="175.2" y2="1085.72" stroke-width="3.3"/>
<line x1="162.2" y1="990.74" x2="175.2" y2="990.74" stroke-width="3.3"/>
<line x1="162.2" y1="895.76" x2="175.2" y2="895.76" stroke-width="3.3"/>
<line x1="162.2" y1="800.78" x2="175.2" y2="800.78" stroke-width="3.3"/>
<line x1="325.39" y1="1180.7" x2="325.39" y2="1193.2" stroke-width="3.3"/>
<line x1="475.58" y1="1180.7" x2="475.58" y2="1193.2" stroke-width="3.3"/>
<line x1="625.77" y1="1180.7" x2="625.77" y2="1193.2" stroke-width="3.3"/>
<line x1="775.96" y1="1180.7" x2="775.96" y2="1193.2" stroke-width="3.3"/>
<line x1="926.14" y1="1180.7" x2="926.14" y2="1193.2" stroke-width="3.3"/>
<line x1="1076.33" y1="1180.7" x2="1076.33" y2="1193.2" stroke-width="3.3"/>
<line x1="1226.52" y1="1180.7" x2="1226.52" y2="1193.2" stroke-width="3.3"/>
<line x1="1376.71" y1="1180.7" x2="1376.71" y2="1193.2" stroke-width="3.3"/>
</g>
<g fill="none" stroke-linejoin="round" stroke-linecap="butt">
<path d="M174.6 1067.12 L178.95 1068.4 L182.71 1074.74 L186.46 1063.32 L190.22 1055.73 L193.97 1060.17 L197.73 1048.13 L201.48 1058.27 L205.24 1050.03 L208.99 1044.97 L212.75 1044.33 L216.5 1035.46 L220.26 1030.4 L224.01 1034.2 L227.77 1038 L231.52 1038.63 L235.28 1037.36 L239.03 1039.9 L242.78 1043.07 L246.54 1043.7 L250.29 1042.43 L254.05 1043.07 L257.8 1042.43 L261.56 1043.38 L265.31 1042.75 L269.07 1042.43 L273.28 1041.51 L276.79 1041.22 L280.89 1039.26 L284.4 1038.14 L287.9 1037.35 L291.89 1035.28 L296.3 1034.08 L298.5 1032.12 L302.71 1030.2 L305.94 1027.48 L310.27 1025.81 L313.89 1023.25 L317.93 1020.26 L321.98 1018.39 L325.43 1015.71 L328.92 1012.28 L332.88 1009.42 L336.71 1006 L340.78 1003.65 L344.82 999.85 L347.3 995.12 L352.16 990.44 L356.08 986.69 L358.81 982.24 L363.92 978.13 L366.52 974.1 L370.98 968.57 L374.94 963.63 L377.77 958.91 L381.37 952.58 L385.4 947.67 L389.35 943.13 L393.03 937.4 L397.15 931.79 L401.27 926.57 L404.83 920.93 L407 916.48 L411.27 910.83 L414.9 906.91 L420.36 902.08 L423.25 898.05 L426.96 894.23 L430.41 890.32 L434.24 886.47 L438.42 882.36 L441.77 879.39 L445.69 877.6 L449.94 874.33 L452.72 871.72 L456.16 870.06 L460.07 868.4 L464.73 866.83 L467.66 865.84 L471.88 865.73 L475.68 865.13 L479.2 865.28 L482.9 865.51 L486.16 866.32 L490.91 867.42 L494.08 869.92 L497.93 872.21 L502.51 873.19 L505.93 876.08 L508.88 878.44 L512.93 882.75 L517.14 885.87 L520.74 890.25 L524.56 894.95 L528.07 900.26 L531.49 904.81 L535.52 911.77 L538.89 917.29 L543.5 924.97 L547.75 932.7 L550.28 941.54 L555.24 948.9 L557.12 957.54 L562.95 965.66 L566.21 974.7 L568.55 983.35 L572.65 991.81 L576.68 1001.03 L580.38 1009.6 L584.42 1018.01 L587.59 1026.38 L592.04 1035.47 L597.52 1043.94 L598.95 1051.39 L604.01 1059.76 L607.04 1068.58 L611.69 1075.54 L614.34 1084.22 L618.55 1091.82 L622.68 1099.65 L624.88 1105.71 L629.5 1112.81 L633.13 1119.33 L636.44 1125.7 L640.91 1131.44 L643.9 1134.62 L647.8 1140.85 L651.78 1143.96 L655.95 1148.26 L659.6 1151.91 L663.64 1154.98 L667.49 1157.55 L670.87 1160.31 L674.64 1161.83 L678.53 1164.15 L682.07 1165.43 L685.77 1167.11 L689.47 1168.35 L693.43 1169.25 L697.22 1170.26 L700.79 1171.16 L704.69 1171.87 L708.38 1172.35 L712.05 1173.16 L715.89 1173.58 L719.71 1174.11 L723.3 1174.55 L727.15 1174.8 L730.92 1175.23 L734.76 1175.54 L738.44 1175.7 L742.26 1175.97 L745.96 1176.16 L749.7 1176.37 L753.49 1176.52 L757.29 1176.53 L760.96 1176.9 L764.73 1177.08 L768.42 1177.01 L772.12 1177.13 L775.95 1177.32 L779.76 1177.46 L783.46 1177.55 L787.21 1177.67 L790.9 1177.81 L794.81 1177.92 L798.49 1177.97 L802.24 1178.03 L806.02 1177.95 L809.84 1178.1 L813.54 1178.15 L817.28 1178.19 L821.05 1178.13 L824.77 1178.08 L828.39 1178.32 L832.26 1178.19 L836.04 1178.36 L839.7 1178.33 L843.47 1178.31 L847.3 1178.29 L851.07 1178.39 L854.83 1178.37 L858.6 1178.36 L862.27 1178.38 L866.12 1178.41 L869.73 1178.46 L873.58 1178.42 L877.3 1178.43 L881.05 1178.53 L884.81 1178.62 L888.66 1178.59 L892.24 1178.68 L896.09 1178.64 L899.88 1178.57 L903.6 1178.73 L907.27 1178.67 L910.99 1178.54 L914.96 1178.68 L918.73 1178.75 L922.39 1178.76 L926.16 1178.68 L929.87 1178.72 L933.64 1178.85 L937.3 1178.92 L941.13 1178.81 L944.88 1178.88 L948.72 1178.83 L952.51 1178.96 L956.31 1178.84 L959.93 1178.92 L963.7 1178.97 L967.44 1179.08 L971.27 1179.08 L974.97 1179.1 L978.86 1179.04 L982.46 1179.13 L986.26 1179.16 L990.04 1179.1 L993.71 1179.07 L997.55 1179.12 L1001.24 1179.22 L1005.06 1179.2 L1008.82 1179.23 L1012.59 1179.16 L1016.3 1179.23 L1020.01 1179.27 L1023.85 1179.25 L1027.47 1179.26 L1031.19 1179.24 L1034.93 1179.42 L1038.77 1179.29 L1042.6 1179.33 L1046.21 1179.29 L1049.98 1179.44 L1053.78 1179.41 L1057.51 1179.47 L1061.46 1179.41 L1065.14 1179.44 L1068.75 1179.46 L1072.66 1179.48 L1076.32 1179.49 L1080.1 1179.56 L1083.91 1179.41 L1087.51 1179.57 L1091.33 1179.55 L1095.1 1179.63 L1098.73 1179.64 L1102.55 1179.69 L1106.33 1179.71 L1110.16 1179.66 L1113.95 1179.68 L1117.69 1179.61 L1121.32 1179.63 L1125.2 1179.68 L1128.95 1179.82 L1132.54 1179.67 L1136.41 1179.74 L1140.14 1179.82 L1143.99 1179.76 L1147.7 1179.72 L1151.38 1179.78 L1155.21 1179.85 L1158.91 1179.66 L1162.69 1179.77 L1166.4 1179.92 L1170.26 1179.87 L1173.81 1179.82 L1177.71 1179.84 L1181.46 1179.83 L1185.35 1179.83 L1189.01 1179.88 L1192.85 1179.91 L1196.36 1179.84 L1200.16 1179.95 L1204.02 1179.86 L1207.81 1179.84 L1211.41 1179.95 L1215.21 1179.93 L1219 1179.9 L1222.82 1179.97 L1226.53 1179.95 L1230.42 1180.08 L1234.03 1179.97 L1237.69 1179.96 L1241.49 1180.03 L1245.25 1180.06 L1249.08 1179.94 L1252.79 1180.08 L1256.45 1180.01 L1260.32 1180 L1264.11 1179.94 L1267.89 1180.02 L1271.62 1180.07 L1275.32 1180.05 L1279.03 1180.16 L1282.85 1179.86 L1286.5 1180.16 L1290.4 1180.08 L1294.06 1180.14 L1297.97 1180.09 L1301.67 1180.12 L1305.49 1180.15 L1309.18 1180.12 L1312.97 1180.24 L1316.55 1180.09 L1320.46 1180.12 L1324.12 1180.11 L1327.98 1180.19 L1331.53 1180.07 L1335.45 1180.09 L1339.14 1180.07 L1342.91 1180.17 L1346.62 1180.21 L1350.4 1180.16 L1354.11 1180.14 L1357.89 1180.24 L1361.63 1180.21 L1365.47 1180.11 L1369.21 1180.14 L1372.89 1180.14 L1376.71 1180.18 L1380.48 1180.13 L1384.19 1180.24 L1387.92 1180.2 L1391.71 1180.17 L1395.58 1180.27 L1399.28 1180.28 L1403.01 1180.28 L1406.79 1180.23 L1410.53 1180.1 L1414.24 1180.28 L1417.99 1180.18 L1421.73 1180.34 L1425.56 1180.27 L1429.23 1180.19 L1433 1180.2 L1436.75 1180.21 L1440.55 1180.16 L1444.29 1180.28 L1447.97 1180.29 L1451.94 1180.26 L1455.42 1180.24 L1459.33 1180.23 L1463.02 1180.37 L1466.83 1180.32 L1470.62 1180.26 L1474.32 1180.31 L1478.1 1180.35 L1481.87 1180.31 L1485.54 1180.26 L1489.41 1180.21 L1493.23 1180.34 L1496.76 1180.41 L1500.57 1180.33 L1504.35 1180.38 L1508.1 1180.37 L1511.9 1180.28 L1515.62 1180.37 L1519.35 1180.47 L1523.11 1180.46 L1528.5 1180.35" stroke="#000000" stroke-width="3.8"/>
<path d="M174.6 1035.46 L178.95 1051.93 L182.71 1031.03 L186.46 1045.6 L190.22 1010.13 L193.97 1043.7 L197.73 1017.11 L201.48 1039.27 L205.24 1038.63 L208.99 1037.68 L212.75 1039.58 L216.5 1041.17 L220.26 1036.1 L224.01 1037.36 L227.77 1043.07 L231.52 1044.97 L235.28 1046.87 L239.03 1058.27 L242.78 1048.13 L246.54 1050.03 L250.29 1050.35 L254.05 1050.03 L257.8 1049.72 L261.56 1049.4 L265.31 1048.77 L269.07 1047.82 L273.32 1046.27 L276.8 1045.4 L280.77 1043.7 L284.84 1043.03 L287.96 1040.8 L292.02 1039.03 L295.09 1037.62 L298.43 1034.93 L303.09 1031.81 L305.74 1030.59 L310.16 1027.83 L314.16 1025.51 L317.2 1022.7 L321.81 1020.39 L325.03 1018.06 L329.1 1013.96 L333.08 1011.42 L337.37 1008.32 L340.97 1003.46 L343.66 1000.7 L347.52 996.49 L351.42 992.6 L355.58 987.49 L358.42 984.33 L362.93 978.8 L366.98 974.74 L370.21 969.38 L373.69 964.03 L377.19 959.83 L382.45 954.21 L385.25 949.27 L389.11 943.5 L392.81 938.99 L396.68 933.54 L401.37 928.04 L404.76 922.49 L408.79 917.03 L412.49 913.08 L415.59 908.15 L418.71 903.42 L423.13 899.67 L426.21 895.89 L430.79 890.92 L433.4 888.24 L438.92 884.61 L441.87 882.66 L444.96 878.98 L448.92 877.3 L452.87 875.09 L456.52 872.24 L460.52 870.93 L464.54 869.89 L468.84 868.44 L471.22 868.67 L475.4 868.49 L479.05 869.3 L482.94 869.96 L485.84 870.87 L491.16 872.13 L493.34 874.27 L497.57 876.57 L501.62 879.14 L505.72 881.19 L509.39 885.43 L513.69 889.19 L515.97 893.94 L519.94 897.39 L525.86 901.84 L528.27 907.19 L531.95 914.23 L536.81 920.96 L539.7 927.59 L543.04 934.55 L547.49 942.21 L549.7 948.75 L554.94 957.24 L558.34 964.97 L561.85 973.5 L565.94 982.47 L570.19 989.56 L572.42 997.85 L576.66 1007.24 L580.55 1015.23 L584.31 1022.31 L588.54 1031.26 L592.5 1039.62 L595.93 1047.19 L600.57 1055.44 L603.94 1064.26 L606.4 1072.42 L610.96 1079.52 L614.85 1088.64 L618.61 1095.26 L621.81 1102.88 L625.82 1109.46 L629.16 1116.9 L633.05 1122.66 L637.01 1127.43 L641.17 1132.57 L644.75 1137.68 L646.94 1142.61 L652.31 1146.31 L655.73 1150.11 L659.18 1153.14 L662.93 1155.85 L667.21 1158.65 L671.08 1161.08 L674.52 1162.89 L678.26 1164.55 L682.35 1166.21 L685.95 1167.41 L689.65 1168.52 L693.49 1169.83 L697.13 1170.76 L700.85 1171.12 L704.81 1172.06 L708.44 1172.62 L712.2 1173.13 L715.85 1173.63 L719.62 1174.19 L723.41 1174.49 L727.04 1174.89 L730.9 1175.24 L734.62 1175.47 L738.48 1175.81 L742.08 1175.91 L746.04 1176.12 L749.77 1176.28 L753.41 1176.49 L757.19 1176.69 L760.92 1176.78 L764.69 1176.85 L768.36 1177.16 L772.23 1177.23 L775.99 1177.3 L779.75 1177.45 L783.43 1177.51 L787.22 1177.69 L790.94 1177.65 L794.7 1177.72 L798.48 1177.8 L802.24 1177.91 L805.97 1177.92 L809.73 1178 L813.54 1178.12 L817.34 1178.06 L821 1178.13 L824.82 1178.27 L828.65 1178.11 L832.31 1178.19 L836.06 1178.13 L839.81 1178.3 L843.53 1178.34 L847.41 1178.32 L851.09 1178.31 L854.73 1178.4 L858.59 1178.45 L862.2 1178.46 L866.05 1178.42 L869.86 1178.47 L873.63 1178.47 L877.38 1178.49 L881.08 1178.46 L884.69 1178.6 L888.66 1178.49 L892.3 1178.46 L896.07 1178.65 L899.91 1178.63 L903.65 1178.69 L907.51 1178.64 L911.16 1178.73 L914.88 1178.72 L918.64 1178.63 L922.32 1178.79 L926.12 1178.72 L929.92 1178.68 L933.69 1178.9 L937.43 1178.86 L941.18 1178.9 L944.92 1178.89 L948.68 1178.88 L952.53 1178.99 L956.18 1178.9 L959.96 1178.88 L963.63 1178.94 L967.46 1179 L971.3 1179.03 L975.01 1179.13 L978.8 1179.05 L982.43 1179.05 L986.22 1179.13 L990 1179.12 L993.69 1179.05 L997.47 1179.04 L1001.38 1179.14 L1004.94 1179.25 L1008.73 1179.16 L1012.56 1179.17 L1016.34 1179.33 L1019.95 1179.09 L1023.71 1179.21 L1027.54 1179.37 L1031.26 1179.4 L1035.11 1179.29 L1038.91 1179.32 L1042.51 1179.38 L1046.23 1179.38 L1050 1179.37 L1053.63 1179.35 L1057.56 1179.4 L1061.36 1179.39 L1065.07 1179.44 L1068.93 1179.42 L1072.6 1179.47 L1076.35 1179.5 L1080.01 1179.41 L1083.83 1179.56 L1087.64 1179.48 L1091.33 1179.51 L1095.1 1179.62 L1098.83 1179.58 L1102.6 1179.64 L1106.25 1179.63 L1110.12 1179.7 L1113.76 1179.64 L1117.52 1179.7 L1121.39 1179.7 L1125.12 1179.78 L1128.93 1179.66 L1132.59 1179.7 L1136.4 1179.75 L1140.32 1179.78 L1143.76 1179.86 L1147.63 1179.61 L1151.48 1179.8 L1155.14 1179.7 L1159.01 1179.63 L1162.69 1179.79 L1166.43 1179.92 L1170.17 1179.8 L1173.86 1179.79 L1177.75 1179.86 L1181.45 1179.87 L1185.21 1179.85 L1189.05 1179.9 L1192.81 1179.93 L1196.54 1179.88 L1200.31 1179.88 L1203.8 1179.8 L1207.77 1179.89 L1211.52 1179.95 L1215.24 1180 L1219.04 1179.92 L1222.68 1179.96 L1226.49 1179.98 L1230.25 1180 L1234.07 1180 L1237.83 1179.9 L1241.58 1180.05 L1245.37 1180.01 L1249.03 1179.96 L1252.74 1180.02 L1256.56 1179.97 L1260.35 1179.95 L1264.05 1180.03 L1267.74 1180.1 L1271.54 1180.06 L1275.41 1180.11 L1279.07 1180.11 L1282.94 1180.03 L1286.52 1180.07 L1290.3 1180.13 L1293.98 1180.06 L1297.88 1180 L1301.59 1180.04 L1305.3 1180.19 L1309.03 1180.12 L1312.84 1180.11 L1316.65 1180.13 L1320.5 1180.15 L1324.12 1180.12 L1328 1180.18 L1331.76 1180.11 L1335.39 1180.14 L1339.11 1180.09 L1342.85 1180.12 L1346.75 1180.14 L1350.45 1180.1 L1354.12 1180.21 L1358 1180.19 L1361.72 1180.14 L1365.28 1180.07 L1369.2 1180.13 L1373 1180.23 L1376.77 1180.18 L1380.43 1180.24 L1384.3 1180.18 L1388 1180.15 L1391.77 1180.1 L1395.47 1180.3 L1399.28 1180.32 L1403.09 1180.2 L1406.71 1180.22 L1410.43 1180.3 L1414.23 1180.21 L1417.96 1180.29 L1421.76 1180.34 L1425.63 1180.22 L1429.38 1180.14 L1433 1180.25 L1436.65 1180.27 L1440.51 1180.27 L1444.27 1180.19 L1448.1 1180.26 L1451.84 1180.23 L1455.55 1180.31 L1459.24 1180.38 L1463.12 1180.4 L1466.83 1180.24 L1470.62 1180.21 L1474.33 1180.35 L1478.02 1180.28 L1481.85 1180.42 L1485.56 1180.31 L1489.27 1180.31 L1493.13 1180.36 L1496.85 1180.44 L1500.54 1180.44 L1504.42 1180.38 L1508.13 1180.33 L1511.93 1180.32 L1515.65 1180.33 L1519.31 1180.39 L1523.06 1180.21 L1528.5 1180.4" stroke="#8b3a10" stroke-width="4"/>
<path d="M174.6 1077.89 L178.95 1079.17 L182.71 1094.99 L186.46 1079.17 L190.22 1066.5 L193.97 1063.32 L197.73 1074.74 L201.48 1063.97 L205.24 1059.52 L208.99 1053.83 L212.75 1057.62 L216.5 1053.2 L220.26 1053.2 L224.01 1053.83 L227.77 1052.57 L231.52 1060.17 L235.28 1062.07 L239.03 1061.12 L242.78 1060.8 L246.54 1061.42 L250.29 1062.7 L254.05 1062.37 L257.8 1062.7 L261.56 1062.37 L265.31 1061.75 L269.07 1061.42 L272.71 1060.34 L276.91 1060.59 L279.55 1058.8 L284.33 1057.51 L287.99 1056.22 L291.45 1054.86 L295.53 1053.45 L299.61 1050.91 L303.38 1049.99 L306.28 1048.14 L310.02 1045.71 L313.83 1043.51 L317.03 1040.01 L321.32 1038.73 L325.04 1036.14 L329.34 1032.97 L332.77 1029.61 L336.09 1027.72 L340.97 1023.46 L343.9 1020.68 L347.92 1016.31 L351.11 1013.1 L355.26 1009.89 L358.41 1006.3 L362.72 1001.31 L366.84 997.1 L371.13 992.38 L374.21 988.43 L377.62 983.15 L381.76 978 L385.72 971.15 L389.5 965.14 L393.08 960.98 L396.67 955.2 L400.85 947.5 L404.06 942.53 L407.7 937.79 L411.66 932.64 L415.31 927.33 L419.13 923.05 L422.6 919.12 L426.33 915.41 L430.12 911 L434.7 908.21 L437.93 905.64 L441.38 902.65 L445.75 901.14 L448.89 898.56 L453.19 896.3 L457.4 895.03 L461.23 894.33 L464.27 894.07 L467.74 891.94 L471.16 891.47 L475.47 891.77 L479.24 890.66 L483.15 892.09 L487.44 893 L489.55 893.05 L494.67 895.73 L498.14 898.02 L502.32 898.23 L506.05 901.37 L508.52 904.09 L513.13 907.24 L516.62 909.8 L521.53 912.84 L524.53 917.54 L528.98 922.9 L533.02 926.89 L535.08 932.61 L539.47 937.96 L543.04 944.55 L546.91 951.58 L550.95 959.76 L554.85 966.79 L557.53 974.07 L562.64 983.57 L565.57 990.8 L569.19 998.16 L572.9 1006.02 L576.5 1015.86 L581.31 1023.37 L583.7 1030.92 L589.04 1038.84 L591.61 1047.34 L596 1054.92 L599.23 1064.31 L603.66 1071.06 L607.44 1079.44 L610.46 1086.26 L614.34 1093.65 L618.75 1100.88 L621.7 1108.28 L626.17 1113.99 L629.41 1120.83 L633.79 1126.2 L638.35 1131.46 L640.88 1135.62 L643.98 1140.39 L647.99 1144.54 L652.28 1148.44 L655.44 1151.82 L660.21 1154.6 L662.84 1157.44 L667.19 1160.1 L670.68 1161.88 L674.69 1163.98 L678.2 1165.42 L682.28 1167.16 L685.67 1168.12 L689.56 1169.31 L693.21 1170.05 L697.1 1171.23 L701.04 1171.87 L704.61 1172.63 L708.24 1173.05 L712.29 1173.72 L715.97 1174.08 L719.5 1174.53 L723.4 1175.09 L727.14 1175.24 L730.92 1175.48 L734.59 1175.72 L738.4 1176.08 L742.22 1176.15 L745.94 1176.33 L749.53 1176.59 L753.34 1176.86 L757.14 1176.97 L760.97 1177.06 L764.66 1177.15 L768.45 1177.2 L772.22 1177.44 L775.97 1177.52 L779.68 1177.57 L783.34 1177.72 L787.2 1177.7 L790.93 1177.83 L794.77 1177.85 L798.62 1177.94 L802.22 1177.97 L805.89 1178.04 L809.66 1177.99 L813.47 1178.17 L817.26 1178.17 L821.09 1178.15 L824.65 1178.09 L828.5 1178.08 L832.26 1178.16 L835.96 1178.27 L839.76 1178.16 L843.62 1178.2 L847.31 1178.11 L851.03 1178.23 L854.73 1178.26 L858.55 1178.21 L862.3 1178.22 L866.07 1178.28 L869.86 1178.32 L873.62 1178.24 L877.4 1178.12 L881.16 1178.34 L884.78 1178.19 L888.53 1178.16 L892.39 1178.23 L896.04 1178.25 L899.92 1178.27 L903.69 1178.26 L907.45 1178.24 L911.14 1178.46 L914.83 1178.31 L918.7 1178.42 L922.43 1178.36 L926.25 1178.36 L929.91 1178.4 L933.63 1178.47 L937.4 1178.41 L941.14 1178.36 L944.9 1178.44 L948.63 1178.47 L952.42 1178.57 L956.17 1178.57 L959.89 1178.37 L963.65 1178.64 L967.44 1178.55 L971.22 1178.62 L974.95 1178.57 L978.57 1178.6 L982.53 1178.55 L986.25 1178.54 L990.09 1178.66 L993.78 1178.65 L997.39 1178.68 L1001.17 1178.73 L1005.02 1178.58 L1008.67 1178.72 L1012.45 1178.75 L1016.29 1178.65 L1020.03 1178.72 L1023.77 1178.75 L1027.47 1178.84 L1031.27 1178.76 L1035.05 1178.71 L1038.85 1178.8 L1042.55 1178.97 L1046.3 1178.93 L1050.08 1178.89 L1053.76 1178.93 L1057.49 1179.04 L1061.29 1179.02 L1065.05 1178.86 L1068.79 1178.87 L1072.66 1178.87 L1076.31 1178.94 L1080.01 1179.02 L1083.81 1178.96 L1087.55 1179.05 L1091.27 1179.02 L1095.1 1179.06 L1098.91 1179.08 L1102.59 1179.19 L1106.28 1179.07 L1110.11 1179.03 L1113.9 1179.07 L1117.69 1179.13 L1121.39 1179.11 L1125.15 1179.14 L1128.85 1179.16 L1132.65 1179.28 L1136.35 1179.2 L1140.05 1179.2 L1143.96 1179.13 L1147.76 1179.25 L1151.46 1179.13 L1155.17 1179.19 L1158.98 1179.24 L1162.68 1179.27 L1166.5 1179.19 L1170.16 1179.38 L1173.99 1179.28 L1177.75 1179.22 L1181.44 1179.25 L1185.17 1179.25 L1188.95 1179.29 L1192.8 1179.43 L1196.41 1179.3 L1200.23 1179.23 L1203.96 1179.36 L1207.74 1179.35 L1211.45 1179.31 L1215.31 1179.35 L1218.96 1179.32 L1222.8 1179.37 L1226.63 1179.32 L1230.37 1179.35 L1233.98 1179.32 L1237.78 1179.37 L1241.57 1179.32 L1245.35 1179.37 L1249.05 1179.35 L1252.85 1179.46 L1256.52 1179.33 L1260.31 1179.37 L1264.06 1179.46 L1267.84 1179.43 L1271.63 1179.46 L1275.31 1179.28 L1279.08 1179.37 L1282.88 1179.43 L1286.59 1179.37 L1290.37 1179.41 L1294.24 1179.48 L1297.81 1179.44 L1301.65 1179.48 L1305.39 1179.36 L1309.05 1179.35 L1312.96 1179.36 L1316.55 1179.46 L1320.35 1179.35 L1324.15 1179.48 L1327.88 1179.51 L1331.66 1179.52 L1335.39 1179.28 L1339.06 1179.55 L1342.97 1179.32 L1346.74 1179.41 L1350.48 1179.49 L1354.14 1179.3 L1357.91 1179.43 L1361.72 1179.36 L1365.47 1179.52 L1369.13 1179.49 L1373.03 1179.45 L1376.6 1179.43 L1380.44 1179.37 L1384.18 1179.34 L1387.96 1179.42 L1391.82 1179.46 L1395.55 1179.42 L1399.15 1179.41 L1402.96 1179.51 L1406.78 1179.43 L1410.44 1179.41 L1414.26 1179.5 L1417.96 1179.48 L1421.76 1179.45 L1425.49 1179.47 L1429.26 1179.46 L1433.15 1179.5 L1436.77 1179.5 L1440.65 1179.5 L1444.33 1179.58 L1448.07 1179.42 L1451.78 1179.51 L1455.5 1179.46 L1459.35 1179.52 L1463.09 1179.44 L1466.73 1179.59 L1470.61 1179.45 L1474.33 1179.44 L1478.17 1179.6 L1481.88 1179.54 L1485.71 1179.55 L1489.32 1179.49 L1493.03 1179.62 L1496.87 1179.53 L1500.68 1179.52 L1504.26 1179.65 L1508.13 1179.59 L1511.94 1179.65 L1515.62 1179.59 L1519.55 1179.52 L1523.2 1179.55 L1528.5 1179.62" stroke="#de5b1b" stroke-width="3.7"/>
<path d="M174.6 1131.86 L178.95 1109.69 L182.71 1114.76 L186.46 1116.66 L190.22 1112.87 L193.97 1110.97 L197.73 1118.56 L201.48 1119.19 L205.24 1112.24 L208.99 1114.76 L212.75 1110.97 L216.5 1109.07 L220.26 1110.97 L224.01 1106.54 L227.77 1099.89 L231.52 1104.64 L235.28 1108.44 L239.03 1100.19 L242.78 1114.14 L246.54 1110.02 L250.29 1109.69 L254.05 1110.97 L257.8 1108.74 L261.56 1111.59 L265.31 1112.24 L269.07 1112.24 L273.02 1113.32 L276.93 1113.24 L279.97 1113.4 L283.71 1113.33 L287.84 1113.54 L291.43 1113.72 L295.9 1113.1 L298.93 1113.51 L302.8 1112.88 L307.09 1112.63 L310.34 1112.66 L314.16 1112.26 L317.83 1110.77 L322.01 1110.15 L325.47 1111.52 L328.5 1109.94 L332.29 1109.23 L335.58 1109.03 L340.27 1108.43 L344.2 1107.03 L348.41 1106.35 L351.48 1105.28 L355.94 1104.51 L360.24 1103.84 L362.94 1102.02 L366.65 1101.69 L369.77 1100.26 L373.62 1099.03 L378.43 1098.02 L381.43 1097.57 L385.37 1095.93 L388.58 1095.08 L393.56 1094.13 L396.29 1092.47 L400.8 1091.32 L404.26 1090.61 L408.07 1089.81 L411.35 1089.16 L415.64 1087.7 L419.17 1086.71 L422.87 1085.69 L426.71 1083.75 L430.44 1082.45 L434.23 1082.97 L437.56 1081.19 L441.81 1080.61 L445.52 1079.55 L449.14 1077.9 L453.49 1076.94 L457.06 1076.68 L459.96 1076.15 L464.09 1075.67 L467.93 1075.61 L472.13 1076.47 L475.69 1075.98 L480.48 1074.06 L483.99 1074.69 L487.19 1075.77 L490.58 1075.94 L493.75 1075.47 L498.81 1075.73 L501.78 1077.23 L505.86 1077.02 L509.15 1077.52 L512.63 1079.15 L516.6 1079.5 L520.87 1080.36 L524.44 1081.66 L527.91 1083.27 L532.44 1085.18 L534.99 1087.75 L539.72 1089.46 L542.94 1091.71 L546.25 1094.3 L551.33 1096.52 L554.86 1099.48 L557.43 1102.66 L563.23 1105.13 L565.41 1107.01 L570.13 1110.23 L573.41 1112.1 L577.85 1114.4 L580.25 1116.74 L584.56 1121 L588.45 1121.78 L591.18 1124.57 L595.8 1127.58 L599.48 1130.24 L602.77 1133.71 L607.62 1136.78 L610.61 1140.27 L614.3 1142.34 L618.26 1145 L621.44 1147.91 L625.79 1150.11 L629.44 1152.32 L633.01 1154.37 L636.97 1155.58 L640.87 1157.19 L644.52 1158.47 L648.4 1159.64 L651.95 1160.99 L655.74 1162.1 L659.89 1163.28 L663.51 1164.4 L666.95 1165.27 L670.68 1165.92 L674.63 1166.6 L678.28 1167.64 L681.98 1167.92 L685.92 1168.38 L689.38 1168.95 L693.22 1169.38 L697.15 1169.67 L700.9 1169.91 L704.49 1170.49 L708.31 1170.59 L711.97 1170.9 L715.85 1170.96 L719.64 1171.04 L723.45 1171.35 L727.13 1171.69 L730.76 1171.79 L734.76 1171.86 L738.47 1172.14 L742.1 1172.19 L745.84 1172.35 L749.79 1172.41 L753.52 1172.49 L757.2 1172.72 L760.98 1172.81 L764.78 1172.89 L768.34 1173 L772.36 1173 L775.88 1173.15 L779.64 1173.24 L783.5 1173.12 L787.27 1173.3 L790.91 1173.4 L794.86 1173.37 L798.44 1173.41 L802.27 1173.55 L806.02 1173.55 L809.79 1173.74 L813.55 1173.61 L817.19 1173.73 L821.02 1173.81 L824.69 1173.76 L828.51 1173.7 L832.36 1173.94 L835.95 1173.91 L839.83 1173.74 L843.56 1173.95 L847.23 1173.94 L851 1173.97 L854.88 1173.93 L858.47 1173.99 L862.37 1174.04 L866.05 1174.12 L869.83 1174.11 L873.41 1174.15 L877.41 1174.1 L880.99 1174.14 L884.89 1174.21 L888.57 1174.31 L892.38 1174.28 L896.09 1174.23 L899.81 1174.29 L903.51 1174.3 L907.35 1174.3 L911 1174.34 L914.96 1174.47 L918.64 1174.37 L922.43 1174.39 L926.17 1174.48 L929.82 1174.52 L933.77 1174.54 L937.4 1174.6 L941.17 1174.57 L944.98 1174.59 L948.78 1174.58 L952.35 1174.58 L956.21 1174.56 L959.94 1174.64 L963.8 1174.69 L967.37 1174.62 L971.21 1174.69 L974.91 1174.73 L978.72 1174.74 L982.43 1174.75 L986.19 1174.82 L989.9 1174.88 L993.74 1174.81 L997.51 1174.97 L1001.28 1174.89 L1004.92 1174.85 L1008.8 1174.93 L1012.53 1174.9 L1016.23 1174.94 L1019.98 1175 L1023.82 1175.02 L1027.5 1174.95 L1031.27 1174.96 L1035.11 1175 L1038.63 1175 L1042.56 1175.19 L1046.28 1175.13 L1050.1 1175.16 L1053.78 1175.18 L1057.5 1175.14 L1061.36 1175.16 L1065.03 1175.25 L1068.74 1175.3 L1072.59 1175.27 L1076.36 1175.23 L1080.1 1175.33 L1083.77 1175.3 L1087.59 1175.33 L1091.41 1175.41 L1095.11 1175.41 L1098.84 1175.34 L1102.58 1175.31 L1106.38 1175.42 L1110.12 1175.31 L1113.89 1175.43 L1117.74 1175.5 L1121.43 1175.53 L1125.15 1175.41 L1128.86 1175.39 L1132.65 1175.45 L1136.27 1175.56 L1140.17 1175.49 L1143.92 1175.61 L1147.6 1175.55 L1151.31 1175.58 L1155.19 1175.54 L1158.89 1175.69 L1162.72 1175.61 L1166.36 1175.74 L1170.22 1175.69 L1173.92 1175.6 L1177.83 1175.64 L1181.5 1175.7 L1185.25 1175.8 L1188.93 1175.69 L1192.65 1175.73 L1196.45 1175.75 L1200.22 1175.78 L1203.95 1175.81 L1207.75 1175.78 L1211.46 1175.82 L1215.32 1175.86 L1219.03 1175.87 L1222.71 1175.82 L1226.49 1175.87 L1230.29 1175.82 L1234.02 1175.83 L1237.72 1175.98 L1241.5 1175.92 L1245.26 1175.91 L1248.99 1175.87 L1252.81 1175.98 L1256.58 1175.99 L1260.29 1175.84 L1264.08 1175.95 L1267.85 1175.98 L1271.66 1176 L1275.4 1175.99 L1279.05 1176.04 L1282.94 1176.1 L1286.63 1175.94 L1290.33 1176.01 L1294.1 1176.1 L1297.79 1176.11 L1301.66 1176.07 L1305.37 1176.05 L1309.13 1176.14 L1312.8 1176.12 L1316.59 1176.07 L1320.35 1176.09 L1324.2 1176.18 L1327.88 1176.18 L1331.71 1176.14 L1335.46 1176.17 L1339.16 1176.19 L1342.94 1176.19 L1346.68 1176.22 L1350.47 1176.29 L1354.09 1176.17 L1357.89 1176.24 L1361.6 1176.18 L1365.42 1176.19 L1369.26 1176.23 L1372.93 1176.2 L1376.64 1176.27 L1380.37 1176.21 L1384.2 1176.37 L1387.88 1176.38 L1391.66 1176.37 L1395.52 1176.25 L1399.25 1176.33 L1402.96 1176.34 L1406.7 1176.24 L1410.51 1176.29 L1414.32 1176.35 L1417.96 1176.33 L1421.74 1176.31 L1425.4 1176.33 L1429.23 1176.34 L1433.04 1176.4 L1436.84 1176.38 L1440.59 1176.51 L1444.29 1176.36 L1448.08 1176.46 L1451.86 1176.46 L1455.51 1176.38 L1459.43 1176.52 L1462.98 1176.47 L1466.88 1176.49 L1470.62 1176.47 L1474.37 1176.39 L1478.08 1176.4 L1481.87 1176.5 L1485.65 1176.53 L1489.39 1176.47 L1493.11 1176.5 L1496.77 1176.37 L1500.56 1176.51 L1504.33 1176.53 L1508.08 1176.57 L1511.9 1176.58 L1515.68 1176.53 L1519.37 1176.53 L1523.07 1176.56 L1528.5 1176.59" stroke="#fdaa7b" stroke-width="3.8"/>
<path d="M174.6 1162.9 L178.95 1157.2 L182.71 1156.56 L186.46 1161.63 L190.22 1161.95 L193.97 1166.38 L197.73 1158.78 L201.48 1164.17 L205.24 1159.73 L208.99 1162.9 L212.75 1163.85 L216.5 1167.33 L220.26 1163.85 L224.01 1161.95 L227.77 1164.8 L231.52 1157.2 L235.28 1158.46 L239.03 1158.46 L242.78 1159.73 L246.54 1160.36 L250.29 1161 L254.05 1161.95 L257.8 1158.78 L261.56 1161 L265.31 1161.31 L269.07 1161.95 L272.74 1161.96 L276.27 1162 L280.35 1162.01 L284.24 1161.93 L288.28 1162.13 L291.68 1162.02 L295.55 1162.04 L299.19 1162.08 L303 1162.18 L306.55 1162.47 L310.22 1162.45 L314.25 1162.59 L318.22 1162.98 L321.86 1162.85 L325.34 1163.07 L329.27 1163.56 L333.26 1163.78 L336.72 1163.88 L340.69 1164.1 L344.3 1164.46 L347.89 1163.69 L351.59 1164.07 L355.45 1164.25 L359.17 1164.21 L362.99 1163.98 L366.98 1163.95 L370.64 1163.55 L374.26 1163.94 L377.51 1163.73 L381.57 1164.1 L385.41 1163.8 L389.02 1163.99 L393 1164.26 L396.56 1163.89 L400.44 1163.95 L404.2 1164.13 L408.08 1164.32 L411.78 1164.31 L415.4 1164.22 L419.51 1164.2 L423.12 1164.26 L426.73 1164.27 L430.57 1164.24 L434.19 1164.48 L438 1164.34 L441.82 1164.14 L445.64 1164.44 L449.31 1164.16 L452.96 1164.27 L456.89 1164.39 L460.76 1164.21 L464.37 1164.62 L468.29 1164.43 L471.82 1164.41 L475.74 1164.62 L479.06 1164.84 L482.99 1164.67 L486.81 1164.71 L490.39 1164.6 L494.29 1164.85 L498.18 1164.93 L501.9 1164.89 L505.61 1165.11 L509.46 1164.89 L513.33 1165.26 L516.84 1164.92 L520.52 1165.41 L524.23 1165.53 L528.45 1165.54 L531.91 1165.71 L535.54 1165.75 L539.45 1165.86 L543.09 1165.57 L547.04 1166.16 L550.69 1165.97 L554.21 1166.18 L558.41 1166.06 L561.8 1166.33 L565.81 1166.48 L569.72 1166.41 L573.03 1166.57 L576.89 1166.73 L580.67 1166.65 L584.47 1166.8 L588.2 1167.05 L591.89 1166.85 L595.62 1167.11 L599.4 1167.14 L602.99 1167.12 L606.95 1167.28 L610.65 1167.11 L614.46 1167.61 L618.19 1167.75 L621.87 1167.9 L625.88 1167.98 L629.59 1168.07 L633.32 1168.28 L637.12 1168.22 L640.81 1168.59 L644.38 1168.73 L648.28 1168.88 L652.03 1168.82 L655.87 1169.01 L659.67 1169.02 L663.25 1169.35 L666.92 1169.37 L670.88 1169.41 L674.56 1169.79 L678.48 1169.62 L682.14 1169.89 L686 1169.94 L689.49 1169.81 L693.4 1170.09 L697.02 1169.99 L700.8 1170.28 L704.79 1170.22 L708.44 1170.35 L711.98 1170.38 L716.01 1170.6 L719.55 1170.49 L723.57 1170.9 L727.03 1170.9 L730.93 1170.93 L734.67 1171.09 L738.27 1171.1 L742.1 1171.2 L745.92 1171.28 L749.73 1171.29 L753.36 1171.64 L757.23 1171.67 L761.01 1171.69 L764.59 1171.75 L768.45 1171.78 L772.15 1171.94 L775.96 1171.85 L779.69 1171.92 L783.32 1172.06 L787.26 1172.04 L790.94 1172.1 L794.78 1172.18 L798.61 1172.32 L802.26 1172.28 L805.95 1172.37 L809.73 1172.26 L813.49 1172.4 L817.35 1172.47 L820.88 1172.39 L824.8 1172.36 L828.51 1172.52 L832.37 1172.58 L836.04 1172.37 L839.8 1172.58 L843.59 1172.62 L847.32 1172.7 L851.11 1172.59 L854.78 1172.57 L858.56 1172.68 L862.24 1172.76 L866.11 1172.72 L869.81 1172.7 L873.53 1172.76 L877.38 1172.78 L880.94 1172.75 L884.97 1172.72 L888.69 1172.8 L892.26 1172.92 L896.14 1172.97 L899.76 1172.89 L903.54 1172.88 L907.51 1172.92 L911.09 1173.14 L914.98 1173.1 L918.57 1173.07 L922.35 1173.12 L926.18 1173.09 L929.83 1173.13 L933.6 1173.15 L937.24 1173.22 L941.26 1173.24 L945 1173.25 L948.81 1173.3 L952.47 1173.3 L956.15 1173.27 L959.91 1173.52 L963.73 1173.34 L967.47 1173.41 L971.25 1173.38 L974.92 1173.45 L978.86 1173.51 L982.54 1173.59 L986.19 1173.32 L990.01 1173.52 L993.79 1173.49 L997.51 1173.55 L1001.11 1173.67 L1004.93 1173.66 L1008.8 1173.71 L1012.57 1173.64 L1016.28 1173.64 L1019.97 1173.7 L1023.74 1173.7 L1027.48 1173.82 L1031.28 1173.81 L1035.03 1173.9 L1038.86 1173.85 L1042.48 1173.86 L1046.22 1173.82 L1049.91 1173.86 L1053.82 1173.89 L1057.68 1173.83 L1061.25 1174.04 L1065.03 1173.99 L1068.82 1173.92 L1072.57 1173.92 L1076.35 1173.95 L1080 1173.99 L1083.97 1174 L1087.61 1174.11 L1091.26 1174.1 L1095.12 1174.17 L1098.87 1174.25 L1102.6 1174.17 L1106.31 1174.13 L1110.19 1174.18 L1113.9 1174.31 L1117.67 1174.22 L1121.34 1174.23 L1125.14 1174.33 L1128.99 1174.39 L1132.68 1174.47 L1136.44 1174.3 L1140.2 1174.39 L1143.98 1174.44 L1147.72 1174.39 L1151.45 1174.43 L1155.22 1174.46 L1158.99 1174.5 L1162.64 1174.45 L1166.41 1174.59 L1170.18 1174.46 L1173.93 1174.52 L1177.59 1174.66 L1181.53 1174.61 L1185.21 1174.59 L1188.99 1174.62 L1192.71 1174.74 L1196.56 1174.67 L1200.21 1174.67 L1204.07 1174.68 L1207.84 1174.62 L1211.47 1174.66 L1215.23 1174.82 L1219.04 1174.79 L1222.84 1174.74 L1226.5 1174.74 L1230.32 1174.81 L1234.05 1174.78 L1237.84 1174.87 L1241.65 1174.93 L1245.21 1174.89 L1249.11 1174.92 L1252.92 1174.87 L1256.49 1174.96 L1260.35 1174.88 L1264.07 1174.9 L1267.85 1174.96 L1271.62 1174.98 L1275.34 1175.07 L1279.06 1174.96 L1282.85 1174.96 L1286.68 1175.01 L1290.31 1174.96 L1294.14 1174.97 L1297.93 1175.07 L1301.69 1175.11 L1305.36 1175.14 L1309.13 1175.06 L1312.9 1175.1 L1316.53 1175.2 L1320.27 1175.19 L1324.13 1175.2 L1327.87 1175.17 L1331.6 1175.08 L1335.4 1175.22 L1339.13 1175.11 L1343 1175.28 L1346.58 1175.27 L1350.44 1175.22 L1354.21 1175.2 L1357.93 1175.33 L1361.66 1175.33 L1365.43 1175.23 L1369.1 1175.38 L1372.83 1175.32 L1376.66 1175.32 L1380.55 1175.3 L1384.13 1175.35 L1387.97 1175.36 L1391.72 1175.42 L1395.56 1175.41 L1399.27 1175.47 L1403.03 1175.47 L1406.8 1175.47 L1410.56 1175.35 L1414.28 1175.44 L1417.96 1175.5 L1421.82 1175.41 L1425.64 1175.46 L1429.27 1175.56 L1433.07 1175.52 L1436.76 1175.6 L1440.55 1175.6 L1444.31 1175.53 L1448.04 1175.61 L1451.79 1175.59 L1455.6 1175.57 L1459.3 1175.54 L1463.18 1175.58 L1466.8 1175.63 L1470.47 1175.66 L1474.36 1175.55 L1478.07 1175.6 L1481.86 1175.67 L1485.7 1175.67 L1489.29 1175.76 L1493.25 1175.69 L1496.8 1175.75 L1500.65 1175.75 L1504.45 1175.68 L1508.16 1175.63 L1511.83 1175.75 L1515.6 1175.82 L1519.39 1175.86 L1523.11 1175.89 L1528.5 1175.78" stroke="#fecaab" stroke-width="3.6"/>
</g>
<g font-size="41.67" fill="#000">
<text x="18" y="705">B.</text>
<text x="138.2" y="1193.7" text-anchor="end">0.0</text>
<text x="138.2" y="1098.72" text-anchor="end">0.5</text>
<text x="138.2" y="1003.74" text-anchor="end">1.0</text>
<text x="138.2" y="908.76" text-anchor="end">1.5</text>
<text x="138.2" y="813.78" text-anchor="end">2.0</text>
<text x="138.2" y="718.8" text-anchor="end">2.5</text>
<text x="175.2" y="1243.6" text-anchor="middle">220</text>
<text x="325.39" y="1243.6" text-anchor="middle">240</text>
<text x="475.58" y="1243.6" text-anchor="middle">260</text>
<text x="625.77" y="1243.6" text-anchor="middle">280</text>
<text x="775.96" y="1243.6" text-anchor="middle">300</text>
<text x="926.14" y="1243.6" text-anchor="middle">320</text>
<text x="1076.33" y="1243.6" text-anchor="middle">340</text>
<text x="1226.52" y="1243.6" text-anchor="middle">360</text>
<text x="1376.71" y="1243.6" text-anchor="middle">380</text>
<text x="1526.9" y="1243.6" text-anchor="middle">400</text>
<text x="799.3" y="1293" text-anchor="middle" letter-spacing="0.13">Wavelength (nm)</text>
<text transform="translate(67 952.3) rotate(-90)" text-anchor="middle" letter-spacing="0.27">Absorbance (a.u.)</text>
<text x="807.6" y="769.2" text-anchor="middle" font-weight="bold" fill="#1a1617">HEPES</text>
<text x="480.5" y="767.4" text-anchor="middle" font-size="38" letter-spacing="0.3">260 nm</text>
<text x="1353" y="759.7" letter-spacing="0.25">0 Days</text>
<text x="1353" y="802.3" letter-spacing="0.25">6 Days</text>
<text x="1353" y="844.5" letter-spacing="0.25">13 Days</text>
<text x="1353" y="886.3" letter-spacing="0.25">34 Days</text>
<text x="1353" y="928.6" letter-spacing="0.25">43 Days</text>
</g>
<g fill="none" stroke-linecap="round">
<line x1="1278.65" y1="746.4" x2="1344.85" y2="746.4" stroke="#000000" stroke-width="4.7"/>
<line x1="1277.85" y1="789" x2="1345.65" y2="789" stroke="#8b3a10" stroke-width="3.1"/>
<line x1="1278.3" y1="831.2" x2="1345.2" y2="831.2" stroke="#de5b1b" stroke-width="4"/>
<line x1="1277.8" y1="873" x2="1345.7" y2="873" stroke="#fdaa7b" stroke-width="3"/>
<line x1="1278.3" y1="915.3" x2="1345.2" y2="915.3" stroke="#fecaab" stroke-width="4"/>
</g>
<line x1="474.4" y1="776.2" x2="474.4" y2="831.2" stroke="#000" stroke-width="3.3"/>
<polygon points="464,830.2 484.8,830.2 474.4,850.7" fill="#000"/>
</g>
<g id="panel-C">
<g stroke="#000" fill="none" stroke-linecap="butt">
<line x1="171.2" y1="1347" x2="171.2" y2="1832.3" stroke-width="4.2"/>
<line x1="158.2" y1="1820.3" x2="1530.5" y2="1820.3" stroke-width="3.8"/>
<line x1="158.2" y1="1347" x2="1527.5" y2="1347" stroke-width="4"/>
<path d="M1524.5 1347.35 H1530.5 V1832.3" stroke-width="4.7" stroke-linejoin="round"/>
<line x1="158.2" y1="1725.64" x2="171.2" y2="1725.64" stroke-width="3.3"/>
<line x1="158.2" y1="1630.98" x2="171.2" y2="1630.98" stroke-width="3.3"/>
<line x1="158.2" y1="1536.32" x2="171.2" y2="1536.32" stroke-width="3.3"/>
<line x1="158.2" y1="1441.66" x2="171.2" y2="1441.66" stroke-width="3.3"/>
<line x1="322.23" y1="1820.3" x2="322.23" y2="1832.3" stroke-width="3.3"/>
<line x1="473.27" y1="1820.3" x2="473.27" y2="1832.3" stroke-width="3.3"/>
<line x1="624.3" y1="1820.3" x2="624.3" y2="1832.3" stroke-width="3.3"/>
<line x1="775.33" y1="1820.3" x2="775.33" y2="1832.3" stroke-width="3.3"/>
<line x1="926.37" y1="1820.3" x2="926.37" y2="1832.3" stroke-width="3.3"/>
<line x1="1077.4" y1="1820.3" x2="1077.4" y2="1832.3" stroke-width="3.3"/>
<line x1="1228.43" y1="1820.3" x2="1228.43" y2="1832.3" stroke-width="3.3"/>
<line x1="1379.47" y1="1820.3" x2="1379.47" y2="1832.3" stroke-width="3.3"/>
</g>
<g fill="none" stroke-linejoin="round" stroke-linecap="butt">
<path d="M170.6 1559.23 L174.74 1575.09 L178.52 1589.24 L182.05 1601.21 L186.31 1611.65 L189.98 1621.21 L193.97 1630.54 L198.37 1638.99 L201.6 1646.63 L205.31 1653.1 L210.17 1659 L212.57 1665.12 L216.54 1668.95 L219.81 1672.28 L224.73 1675.19 L227.69 1677.52 L231.04 1678.98 L235.58 1681.02 L238.93 1682.5 L242.71 1684.05 L246.84 1684.64 L250.07 1684.81 L254.29 1684.86 L258.36 1685.21 L262.05 1684.27 L264.67 1684.44 L269.35 1683.4 L272.99 1682.83 L276.84 1682.53 L280 1681.37 L284.57 1679.37 L287.49 1679.21 L292.33 1677.97 L295.79 1674.97 L300.08 1673.64 L303.06 1671.09 L307.07 1668.58 L311.02 1665.65 L315.26 1663.15 L318.63 1660.82 L321.94 1657.05 L325.53 1654.25 L330.2 1650.45 L333.04 1647.21 L337.49 1643.58 L341.83 1640.81 L344.91 1636.34 L349.02 1632.91 L352.5 1628.42 L355.48 1624.16 L359.98 1620.46 L363.81 1615.82 L367.38 1611.63 L370.8 1608.18 L375.19 1603.25 L378.84 1598.98 L382.19 1594.7 L386.71 1590.47 L389.94 1585.72 L393.9 1581.52 L397.66 1576.87 L401.78 1573.17 L405.21 1568.15 L409.33 1563.78 L413.4 1559.68 L416.77 1555.19 L420.3 1550.99 L424.68 1547.41 L428.06 1543.49 L431.65 1539.84 L435.57 1535.79 L439.61 1532.2 L443.04 1529.19 L446.39 1526.34 L450.7 1524.21 L454.26 1522.03 L458.58 1519.89 L461.81 1517.63 L465.98 1517.18 L469.79 1515.85 L472.99 1515.36 L477.63 1515.32 L480.41 1516.12 L485.44 1516.07 L488.9 1517.95 L491.81 1518.16 L496.11 1521.44 L499.36 1523.31 L503.38 1525.54 L506.92 1528.89 L510.21 1532.47 L515.77 1535.7 L519.01 1539.93 L522.15 1544.64 L526.1 1550.01 L529.43 1556.5 L533.75 1561.6 L537.19 1568.98 L541.21 1576.26 L544.52 1583.32 L549.15 1592.07 L552.67 1599.38 L556.29 1607.99 L560.73 1616.07 L563.17 1624.14 L566.83 1631.4 L572.2 1638.39 L575.06 1646.17 L579.44 1653.84 L582.82 1661.6 L586.67 1668.08 L589.86 1675.65 L594.42 1682.73 L598.46 1690.87 L601.32 1698.42 L605.64 1706.51 L609.02 1714.63 L612.77 1721.89 L617 1729.77 L620.61 1737.64 L624.34 1744.11 L627.95 1751.56 L632.21 1757.95 L635.45 1764.25 L639.34 1769.58 L643.15 1774.24 L646.61 1779.07 L650.37 1783.48 L654.82 1787.14 L658.23 1790.03 L661.97 1793.69 L665.71 1795.87 L669.56 1797.98 L673.36 1800.03 L677.16 1801.77 L680.52 1803.36 L684.55 1804.7 L688.56 1805.89 L692.2 1806.9 L696.13 1807.67 L699.97 1808.64 L703.39 1809.35 L707.47 1809.93 L711.1 1810.6 L714.88 1811.42 L718.73 1811.86 L722.4 1812.38 L726.3 1812.8 L730.05 1813.12 L733.81 1813.51 L737.49 1813.82 L741.33 1814.21 L745.16 1814.56 L748.94 1814.74 L752.66 1815.08 L756.45 1815.29 L760.27 1815.52 L764.04 1815.79 L767.81 1815.96 L771.58 1816.18 L775.31 1816.35 L779.12 1816.43 L782.87 1816.58 L786.66 1816.7 L790.39 1816.8 L794.21 1816.94 L798.04 1817.05 L801.78 1817.1 L805.5 1817.18 L809.36 1817.18 L813.07 1817.27 L816.9 1817.29 L820.67 1817.32 L824.39 1817.48 L828.2 1817.38 L831.98 1817.52 L835.77 1817.58 L839.46 1817.53 L843.4 1817.61 L847.08 1817.66 L850.86 1817.61 L854.62 1817.61 L858.45 1817.69 L862.21 1817.66 L866.02 1817.72 L869.75 1817.66 L873.53 1817.73 L877.33 1817.76 L881.04 1817.77 L884.87 1817.73 L888.65 1817.82 L892.41 1817.87 L896.17 1817.77 L899.97 1817.8 L903.67 1817.85 L907.51 1817.9 L911.34 1817.83 L915 1817.86 L918.68 1817.91 L922.61 1817.95 L926.33 1818.01 L930.21 1817.98 L933.85 1818.11 L937.56 1818 L941.46 1818.09 L945.19 1818.04 L949.01 1818.14 L952.82 1818.11 L956.59 1818.14 L960.34 1818.11 L964.07 1818.13 L967.97 1818.2 L971.66 1818.14 L975.5 1818.21 L979.26 1818.15 L982.98 1818.26 L986.78 1818.23 L990.62 1818.27 L994.38 1818.41 L998.14 1818.32 L1001.82 1818.29 L1005.68 1818.38 L1009.5 1818.44 L1013.21 1818.34 L1016.95 1818.4 L1020.87 1818.41 L1024.52 1818.51 L1028.29 1818.53 L1032.07 1818.47 L1035.91 1818.5 L1039.66 1818.58 L1043.48 1818.48 L1047.19 1818.5 L1051.04 1818.59 L1054.68 1818.59 L1058.49 1818.62 L1062.23 1818.52 L1066.02 1818.67 L1069.88 1818.66 L1073.72 1818.67 L1077.47 1818.74 L1081.21 1818.73 L1084.94 1818.72 L1088.73 1818.79 L1092.56 1818.79 L1096.29 1818.78 L1100.08 1818.85 L1103.84 1818.79 L1107.61 1818.91 L1111.34 1818.82 L1115.1 1818.76 L1118.96 1818.87 L1122.62 1818.89 L1126.49 1818.9 L1130.28 1818.89 L1134.04 1819 L1137.75 1818.87 L1141.56 1818.93 L1145.39 1818.94 L1149.1 1819 L1152.91 1818.89 L1156.65 1819 L1160.5 1818.95 L1164.22 1819.06 L1167.97 1819.1 L1171.81 1818.99 L1175.58 1819.03 L1179.32 1818.99 L1183.1 1819.06 L1186.97 1819.18 L1190.67 1819.05 L1194.46 1819.16 L1198.27 1819.12 L1202 1819.09 L1205.88 1819.12 L1209.58 1819.08 L1213.29 1819.16 L1217.16 1819.13 L1220.97 1819.18 L1224.71 1819.23 L1228.48 1819.21 L1232.2 1819.23 L1236.03 1819.14 L1239.76 1819.2 L1243.5 1819.23 L1247.33 1819.25 L1251.09 1819.34 L1254.81 1819.25 L1258.65 1819.3 L1262.4 1819.29 L1266.22 1819.31 L1269.93 1819.28 L1273.73 1819.33 L1277.51 1819.35 L1281.28 1819.38 L1285.07 1819.33 L1288.9 1819.27 L1292.6 1819.35 L1296.46 1819.44 L1300.15 1819.38 L1303.97 1819.4 L1307.75 1819.44 L1311.53 1819.36 L1315.22 1819.49 L1319.05 1819.4 L1322.86 1819.41 L1326.67 1819.5 L1330.39 1819.47 L1334.18 1819.44 L1337.94 1819.49 L1341.76 1819.51 L1345.46 1819.52 L1349.26 1819.48 L1353.02 1819.51 L1356.79 1819.53 L1360.52 1819.56 L1364.4 1819.54 L1368.14 1819.49 L1371.93 1819.57 L1375.65 1819.48 L1379.44 1819.46 L1383.18 1819.46 L1387.08 1819.61 L1390.68 1819.61 L1394.55 1819.56 L1398.34 1819.61 L1402.09 1819.58 L1405.88 1819.62 L1409.64 1819.59 L1413.56 1819.59 L1417.3 1819.62 L1421.12 1819.54 L1424.77 1819.68 L1428.54 1819.72 L1432.38 1819.66 L1436.07 1819.71 L1439.82 1819.68 L1443.7 1819.71 L1447.44 1819.75 L1451.25 1819.76 L1455.02 1819.73 L1458.73 1819.67 L1462.56 1819.69 L1466.37 1819.81 L1470.12 1819.74 L1473.86 1819.8 L1477.6 1819.73 L1481.37 1819.83 L1485.25 1819.84 L1488.97 1819.79 L1492.77 1819.85 L1496.53 1819.9 L1500.27 1819.8 L1504.11 1819.87 L1507.79 1819.93 L1511.64 1819.87 L1515.35 1819.93 L1519.11 1819.84 L1522.93 1819.89 L1526.72 1819.97 L1532.55 1819.9" stroke="#000000" stroke-width="3.6"/>
<path d="M170.6 1568.77 L175.64 1584.47 L178.4 1599.5 L182.59 1610.85 L186.44 1621.31 L190.19 1630.66 L193.43 1639.84 L198.1 1647.25 L202.21 1655.02 L205.02 1661.86 L208.91 1667.18 L213.05 1673.2 L216.48 1676.57 L220.46 1679.31 L224.18 1681.47 L227.82 1683.55 L231.38 1684.25 L235.33 1685.94 L238.85 1686.88 L242.5 1687.67 L246.94 1687.38 L250.49 1687.17 L254.58 1687.9 L258.25 1688.29 L262.09 1687.67 L265.88 1687.2 L270.05 1686.4 L273.44 1686.46 L276.61 1684.39 L280.3 1683.56 L284.76 1683.26 L288.17 1681.5 L291.65 1680.49 L295.82 1678.33 L299.49 1676.96 L303.43 1674.28 L307.25 1672.11 L310.06 1669.67 L314.56 1666.78 L318.37 1663.7 L322.03 1661.34 L325.96 1658.49 L329.39 1654.67 L333.68 1651.33 L337.45 1647.5 L340.19 1644.11 L344.74 1639.97 L348.66 1636.03 L352.62 1632.55 L356.49 1628.38 L359.55 1624.28 L363.82 1620.44 L367.61 1615.89 L370.65 1611.43 L374.41 1606.94 L378.57 1602.05 L382.89 1598.47 L386.53 1593.9 L391.1 1589.64 L394.16 1584.83 L398.35 1581.2 L401.42 1576.3 L405.23 1571.98 L408.69 1567.84 L412.32 1563.12 L416.73 1559.17 L419.87 1555.37 L423.77 1551.47 L427.69 1547.46 L431.02 1543.24 L435.59 1539.75 L439.3 1536.53 L443.04 1533.6 L446.95 1530.51 L450.75 1528.47 L454.36 1525.97 L458.55 1524.14 L462.05 1523.54 L465.98 1521.39 L469.66 1520.47 L473.2 1520.26 L476.92 1520.78 L480.57 1520.75 L484.81 1521.28 L487.74 1522.39 L491.95 1524.16 L496.28 1526.43 L499.35 1528.68 L503.34 1531.25 L507.32 1534.83 L510.71 1537.34 L514.87 1542.56 L518.53 1546.22 L522.12 1552.09 L525.76 1556.64 L529.33 1562.79 L533.54 1568.36 L537.9 1575.74 L540.71 1583.75 L544.91 1591.48 L548.87 1599.26 L552.85 1607.91 L556.98 1615.96 L560.24 1623.82 L564.39 1632.09 L568.21 1639.89 L571.33 1648 L574.66 1654.4 L579.48 1662.9 L583.41 1669.14 L586.42 1676.29 L589.65 1683.79 L593.83 1690.73 L597.28 1698.91 L602.04 1706.25 L605.57 1713.19 L608.75 1721.57 L612.23 1729.34 L617.14 1736.45 L620.25 1743.37 L624.21 1751.04 L628.23 1757.11 L632.42 1763.28 L635.29 1768.71 L638.35 1773.97 L643.35 1779.17 L646.4 1783.02 L650.31 1786.85 L654.56 1790.85 L658.6 1793.51 L661.92 1795.8 L665.99 1798.32 L669.59 1800.44 L673.44 1802.24 L677.34 1803.86 L680.94 1804.94 L684.7 1806.2 L688.44 1806.91 L692.18 1807.86 L695.95 1808.77 L699.75 1809.63 L703.67 1809.97 L707.44 1810.71 L711.05 1811.1 L715 1811.81 L718.7 1812.29 L722.5 1812.77 L726.34 1813.09 L730.06 1813.34 L733.78 1813.75 L737.54 1814.12 L741.36 1814.44 L745.18 1814.67 L748.85 1814.98 L752.64 1815.15 L756.46 1815.38 L760.25 1815.65 L763.96 1815.78 L767.78 1816.1 L771.57 1816.23 L775.39 1816.36 L779.05 1816.53 L782.94 1816.61 L786.71 1816.71 L790.44 1816.77 L794.27 1816.85 L797.97 1817.05 L801.71 1817.09 L805.55 1817.06 L809.33 1817.18 L813.09 1817.26 L816.88 1817.27 L820.62 1817.33 L824.37 1817.45 L828.19 1817.4 L831.98 1817.43 L835.73 1817.44 L839.58 1817.49 L843.3 1817.56 L847.09 1817.54 L850.91 1817.64 L854.61 1817.58 L858.4 1817.64 L862.22 1817.7 L865.97 1817.69 L869.71 1817.68 L873.49 1817.7 L877.29 1817.69 L881.06 1817.73 L884.84 1817.78 L888.64 1817.76 L892.38 1817.84 L896.12 1817.81 L900.01 1817.85 L903.62 1817.84 L907.47 1817.83 L911.21 1817.95 L915.07 1817.9 L918.88 1817.86 L922.59 1817.93 L926.44 1818.08 L930.14 1818.07 L933.9 1818.08 L937.73 1818.08 L941.42 1818.03 L945.19 1818.08 L949.03 1818.09 L952.73 1818.04 L956.56 1818.12 L960.35 1818.21 L964.15 1818.2 L967.88 1818.16 L971.62 1818.2 L975.48 1818.26 L979.21 1818.3 L983.07 1818.23 L986.84 1818.27 L990.59 1818.29 L994.32 1818.29 L997.95 1818.42 L1001.9 1818.36 L1005.64 1818.38 L1009.43 1818.37 L1013.28 1818.34 L1016.96 1818.36 L1020.8 1818.43 L1024.59 1818.41 L1028.24 1818.45 L1032.16 1818.51 L1035.82 1818.48 L1039.64 1818.55 L1043.42 1818.49 L1047.26 1818.51 L1050.97 1818.59 L1054.77 1818.66 L1058.51 1818.61 L1062.25 1818.66 L1066.04 1818.66 L1069.86 1818.67 L1073.56 1818.65 L1077.39 1818.61 L1081.25 1818.68 L1084.98 1818.74 L1088.75 1818.81 L1092.49 1818.76 L1096.23 1818.79 L1100.01 1818.77 L1103.82 1818.84 L1107.59 1818.77 L1111.39 1818.85 L1115.12 1818.9 L1118.8 1818.81 L1122.78 1818.83 L1126.5 1818.89 L1130.28 1818.91 L1134.01 1818.97 L1137.91 1818.88 L1141.59 1818.88 L1145.4 1818.97 L1149.07 1819 L1152.95 1819.07 L1156.62 1819.03 L1160.47 1818.98 L1164.28 1819.05 L1167.98 1818.98 L1171.81 1819.01 L1175.63 1819.07 L1179.3 1819.08 L1183.13 1819.08 L1186.9 1819.07 L1190.68 1819.04 L1194.43 1819.09 L1198.24 1819.12 L1201.98 1819.15 L1205.88 1819.11 L1209.6 1819.02 L1213.41 1819.18 L1217.08 1819.13 L1220.89 1819.26 L1224.65 1819.2 L1228.43 1819.26 L1232.2 1819.19 L1235.99 1819.23 L1239.72 1819.21 L1243.41 1819.25 L1247.34 1819.25 L1251.11 1819.2 L1254.86 1819.22 L1258.66 1819.17 L1262.39 1819.22 L1266.26 1819.34 L1269.92 1819.32 L1273.71 1819.27 L1277.53 1819.25 L1281.28 1819.35 L1285.08 1819.31 L1288.9 1819.37 L1292.64 1819.33 L1296.42 1819.33 L1300.11 1819.45 L1304 1819.44 L1307.62 1819.4 L1311.51 1819.39 L1315.2 1819.38 L1319.05 1819.38 L1322.82 1819.4 L1326.56 1819.4 L1330.31 1819.43 L1334.2 1819.49 L1337.96 1819.38 L1341.7 1819.5 L1345.52 1819.51 L1349.19 1819.5 L1352.98 1819.53 L1356.86 1819.55 L1360.51 1819.55 L1364.39 1819.45 L1368.17 1819.58 L1371.95 1819.49 L1375.81 1819.53 L1379.48 1819.57 L1383.25 1819.54 L1387.08 1819.49 L1390.75 1819.64 L1394.58 1819.59 L1398.37 1819.53 L1402.12 1819.57 L1405.9 1819.66 L1409.72 1819.65 L1413.49 1819.64 L1417.26 1819.64 L1421.01 1819.59 L1424.72 1819.64 L1428.53 1819.74 L1432.31 1819.68 L1436.17 1819.6 L1439.87 1819.67 L1443.72 1819.77 L1447.38 1819.66 L1451.2 1819.71 L1454.96 1819.78 L1458.76 1819.7 L1462.55 1819.79 L1466.26 1819.77 L1470.1 1819.74 L1473.86 1819.84 L1477.6 1819.73 L1481.45 1819.84 L1485.2 1819.82 L1488.99 1819.88 L1492.71 1819.86 L1496.48 1819.87 L1500.29 1819.9 L1504.04 1819.89 L1507.78 1819.86 L1511.59 1819.93 L1515.38 1819.89 L1519.21 1819.86 L1522.92 1819.9 L1526.65 1819.92 L1532.55 1820.06" stroke="#8b3a10" stroke-width="3.2"/>
<path d="M170.6 1566.53 L174.5 1581.2 L178.61 1595.31 L182.85 1606.52 L186.96 1618.54 L190.39 1627.8 L193.66 1636.18 L197.47 1643.99 L201.51 1652.03 L205.47 1659.05 L209.05 1664.63 L212.86 1670.18 L216.42 1673.93 L220.54 1678.31 L223.66 1680.75 L227.89 1682.32 L231.18 1684.66 L235.27 1685.6 L239.45 1687.76 L242.76 1687.81 L246.75 1689.25 L250.66 1689.03 L253.98 1690.72 L257.98 1689.72 L261.87 1689.78 L265.63 1689.58 L269.1 1689.37 L273.07 1688.66 L276.92 1688.48 L280.88 1686.76 L284.79 1686.04 L288.76 1684.52 L292.06 1683.39 L295.97 1682.29 L299.55 1680.03 L303.76 1677.62 L307.86 1675.47 L310.73 1672.65 L314.96 1670.89 L317.92 1667.85 L323.01 1664.52 L325.56 1661.2 L329.89 1658.08 L333.48 1654.62 L337.29 1651.38 L341.06 1648.08 L344.68 1644.08 L348.3 1640.14 L353.13 1635.2 L356.34 1632.04 L359.71 1628.04 L363.21 1623.37 L367.64 1620 L371.59 1615.82 L375.04 1611.28 L379.55 1606.49 L382.85 1602.14 L385.54 1597.74 L390.79 1593.74 L394.03 1589.21 L397.61 1584.92 L401.63 1579.98 L404.96 1575.98 L408.56 1571.59 L412.71 1566.86 L416.47 1562.83 L419.79 1558.3 L424.24 1553.61 L428.19 1550.31 L431.65 1546 L435.82 1542.81 L438.91 1539.07 L443.23 1535.9 L446.89 1532.83 L450.23 1530.07 L454.83 1527.86 L458.66 1525.96 L461.78 1524 L466.04 1522.51 L470.41 1522.09 L473.42 1520.62 L477.23 1520.35 L480.92 1521.26 L484.46 1521.72 L488.32 1522.61 L492.13 1524.21 L495.63 1525.6 L499.32 1529.46 L503.38 1530.9 L507.87 1534.94 L511.96 1538.17 L514.97 1541.75 L518.34 1546.26 L523.01 1551.21 L526.43 1556.13 L529.53 1562.38 L533.75 1569.33 L537.79 1575.4 L541.59 1583.4 L545.13 1591.73 L549.12 1599.31 L552.9 1607.28 L555.83 1615.74 L559.65 1624.15 L563.41 1632.3 L567.68 1640.27 L571.26 1647.75 L575.06 1654.51 L578.32 1662.3 L582.52 1668.61 L586.36 1676.24 L590.89 1683.91 L594.73 1690.73 L598.06 1698.83 L601.78 1706.92 L605.33 1713.82 L608.31 1721.56 L612.43 1729.74 L616.55 1736.75 L620.9 1743.53 L624.32 1750.74 L627.61 1757.34 L631.8 1763.37 L635.53 1768.73 L639.64 1774.49 L642.58 1778.95 L646.81 1783.52 L650.59 1787.06 L654.65 1790.56 L658.31 1793.18 L661.83 1795.79 L665.8 1798.37 L669.49 1800.13 L673.11 1801.87 L677.31 1803.91 L680.81 1804.89 L684.83 1806.12 L688.53 1807.1 L692.35 1807.88 L695.91 1808.82 L699.58 1809.46 L703.58 1809.98 L707.33 1810.63 L711.03 1811.14 L714.99 1811.73 L718.67 1812.36 L722.48 1812.75 L726.23 1813.08 L730.07 1813.44 L733.78 1813.82 L737.57 1814.04 L741.33 1814.36 L745.2 1814.68 L748.85 1814.95 L752.62 1815.22 L756.45 1815.44 L760.25 1815.61 L764.01 1815.74 L767.78 1815.94 L771.54 1816.14 L775.35 1816.35 L779.11 1816.47 L782.88 1816.59 L786.62 1816.73 L790.43 1816.81 L794.14 1816.82 L797.95 1817.02 L801.74 1817.14 L805.56 1817.12 L809.3 1817.2 L813.09 1817.19 L816.9 1817.26 L820.65 1817.31 L824.45 1817.44 L828.21 1817.43 L831.96 1817.5 L835.78 1817.46 L839.56 1817.45 L843.28 1817.56 L846.97 1817.5 L850.8 1817.57 L854.58 1817.63 L858.4 1817.56 L862.13 1817.61 L865.98 1817.64 L869.85 1817.67 L873.56 1817.64 L877.28 1817.65 L881.07 1817.75 L884.87 1817.67 L888.59 1817.77 L892.4 1817.76 L896.1 1817.78 L899.98 1817.81 L903.74 1817.78 L907.5 1817.81 L911.26 1817.85 L914.98 1817.84 L918.87 1817.99 L922.61 1817.89 L926.33 1817.86 L930.15 1817.98 L933.93 1817.97 L937.69 1817.98 L941.46 1817.93 L945.28 1818.05 L949.02 1818.04 L952.87 1818.01 L956.6 1818.14 L960.34 1818.15 L964.14 1818.03 L967.84 1818.13 L971.73 1818.11 L975.43 1818.2 L979.25 1818.17 L983.04 1818.24 L986.79 1818.29 L990.53 1818.23 L994.32 1818.26 L998.15 1818.3 L1001.83 1818.21 L1005.64 1818.25 L1009.41 1818.3 L1013.16 1818.35 L1016.96 1818.38 L1020.74 1818.29 L1024.48 1818.42 L1028.41 1818.47 L1032.13 1818.49 L1035.83 1818.45 L1039.71 1818.49 L1043.39 1818.49 L1047.18 1818.49 L1050.92 1818.51 L1054.75 1818.51 L1058.5 1818.5 L1062.21 1818.57 L1066 1818.52 L1069.91 1818.61 L1073.67 1818.54 L1077.39 1818.61 L1081.17 1818.69 L1084.89 1818.7 L1088.75 1818.69 L1092.52 1818.62 L1096.31 1818.66 L1100.09 1818.71 L1103.81 1818.76 L1107.65 1818.81 L1111.35 1818.74 L1115.14 1818.75 L1118.95 1818.75 L1122.69 1818.75 L1126.43 1818.83 L1130.3 1818.86 L1133.98 1818.78 L1137.82 1818.8 L1141.56 1818.83 L1145.32 1818.81 L1149.2 1818.87 L1152.95 1818.87 L1156.7 1818.91 L1160.46 1818.95 L1164.27 1818.99 L1168.01 1818.96 L1171.84 1818.89 L1175.62 1818.91 L1179.43 1818.93 L1183.07 1819.04 L1186.85 1819.04 L1190.67 1818.97 L1194.48 1818.98 L1198.21 1818.96 L1202 1818.97 L1205.73 1819.06 L1209.56 1819.04 L1213.34 1819.08 L1217.1 1818.97 L1220.83 1819.06 L1224.66 1819.04 L1228.44 1819.1 L1232.2 1819.09 L1235.95 1819.03 L1239.74 1819.1 L1243.48 1819.09 L1247.31 1819.21 L1251.1 1819.27 L1254.86 1819.11 L1258.67 1819.18 L1262.44 1819.13 L1266.21 1819.14 L1269.94 1819.11 L1273.75 1819.18 L1277.42 1819.28 L1281.39 1819.25 L1285.15 1819.21 L1288.82 1819.29 L1292.61 1819.26 L1296.33 1819.27 L1300.19 1819.24 L1303.95 1819.29 L1307.7 1819.26 L1311.54 1819.21 L1315.33 1819.26 L1319.05 1819.31 L1322.85 1819.3 L1326.6 1819.21 L1330.43 1819.35 L1334.14 1819.35 L1337.96 1819.28 L1341.67 1819.3 L1345.53 1819.33 L1349.32 1819.34 L1353.11 1819.38 L1356.81 1819.36 L1360.6 1819.28 L1364.41 1819.35 L1368.07 1819.36 L1371.91 1819.36 L1375.68 1819.41 L1379.48 1819.44 L1383.22 1819.33 L1387.04 1819.47 L1390.87 1819.36 L1394.51 1819.48 L1398.41 1819.44 L1402.11 1819.5 L1405.86 1819.44 L1409.67 1819.53 L1413.44 1819.52 L1417.2 1819.48 L1420.97 1819.5 L1424.76 1819.52 L1428.59 1819.54 L1432.23 1819.47 L1436.16 1819.53 L1439.86 1819.56 L1443.64 1819.53 L1447.39 1819.5 L1451.21 1819.59 L1454.95 1819.64 L1458.77 1819.58 L1462.59 1819.59 L1466.32 1819.62 L1470.11 1819.68 L1473.85 1819.59 L1477.64 1819.6 L1481.43 1819.51 L1485.15 1819.78 L1488.96 1819.65 L1492.73 1819.63 L1496.51 1819.68 L1500.28 1819.69 L1504.03 1819.65 L1507.86 1819.73 L1511.62 1819.7 L1515.39 1819.62 L1519.28 1819.69 L1522.94 1819.71 L1526.69 1819.78 L1532.55 1819.74" stroke="#de5b1b" stroke-width="3.6"/>
<path d="M170.6 1566.37 L174.63 1580.95 L178.98 1593.31 L182.8 1605.44 L186.3 1616.03 L190.11 1625.85 L193.21 1634.51 L197.54 1643.59 L201.73 1650.74 L205.39 1657.5 L209.07 1664.18 L212.73 1669.31 L216.52 1673.62 L220.41 1676.9 L223.75 1680.32 L227.29 1683.26 L231.1 1685.98 L234.59 1688.22 L239.51 1688.86 L243.1 1690.47 L247.03 1691.47 L251.33 1691.81 L254.27 1693 L257.69 1693.09 L262.23 1692.57 L265.08 1691.92 L268.94 1692.07 L273.54 1692.01 L277.27 1691.5 L280.37 1690.14 L284.82 1689.32 L288.42 1688.11 L292.62 1686.62 L296.03 1685.13 L299.57 1682.67 L303.33 1681.44 L307.06 1679.57 L310.57 1676.58 L314.69 1673.64 L318.82 1672.29 L322.9 1668.29 L326.58 1665.82 L330.16 1662.09 L333.67 1658.95 L337.19 1655.11 L341.32 1651.38 L345.33 1647.87 L348.93 1644.01 L353.04 1639.87 L356.3 1636.17 L360.12 1633 L364.39 1627.64 L366.82 1623.62 L371.43 1619.63 L374.8 1615.55 L379.39 1610.36 L382.54 1606.1 L385.79 1602.07 L390.67 1598.23 L394 1593.58 L398.02 1588.57 L401.56 1584.91 L405.56 1579.54 L409.15 1575.91 L413.11 1571.27 L416.42 1567.32 L420.36 1562.46 L424.2 1557.74 L428.55 1554.44 L431.84 1550.69 L435.41 1546.33 L439.53 1542.39 L443.2 1539.77 L446.79 1536.76 L450.57 1534.34 L454.43 1531 L457.38 1528.86 L461.66 1527.51 L466.41 1526.06 L469.75 1525.45 L473.31 1524.4 L476.42 1524.53 L481.32 1525.67 L484.74 1525.98 L487.95 1527.13 L491.96 1528.99 L496.2 1531.28 L499.84 1533.75 L503.42 1537.57 L507.06 1540.68 L510.64 1544.31 L514.94 1548.71 L518.48 1552.99 L522.23 1558.37 L525.58 1563.57 L529.94 1569.47 L533.24 1576.63 L537.52 1583.84 L541.37 1590.85 L544.79 1599.64 L548.91 1607.02 L552.18 1615.26 L556.12 1623.49 L560.27 1631.55 L563.43 1639.43 L567.75 1646.68 L571.66 1654.12 L575.53 1661.26 L579.92 1668.03 L583.32 1675.99 L586.34 1682.49 L590.25 1689.29 L593.69 1697.78 L597.81 1704.08 L601.69 1712.14 L605.52 1719.1 L609.2 1726.99 L613.02 1733.84 L616.57 1741.19 L620.77 1748.57 L624.57 1756.04 L628.28 1762.53 L632.1 1767.84 L635.66 1773.48 L639.6 1778.03 L643.62 1782.53 L647.11 1786.68 L650.59 1790.39 L654.89 1793.42 L658.17 1796.2 L661.93 1798.48 L665.58 1800.68 L669.74 1802.35 L673.38 1803.74 L677.17 1805.12 L680.84 1805.95 L684.74 1807.29 L688.53 1807.88 L692.31 1808.78 L696.01 1809.5 L699.7 1809.97 L703.62 1810.53 L707.27 1811.19 L711.14 1811.53 L714.87 1811.96 L718.77 1812.49 L722.48 1812.89 L726.22 1813.3 L730.03 1813.43 L733.75 1813.95 L737.59 1814.28 L741.3 1814.52 L745.15 1814.75 L748.88 1815.01 L752.68 1815.24 L756.43 1815.47 L760.17 1815.59 L763.99 1815.89 L767.88 1816.02 L771.59 1816.17 L775.39 1816.31 L779.11 1816.43 L782.96 1816.57 L786.52 1816.67 L790.4 1816.77 L794.22 1816.91 L797.92 1816.9 L801.79 1817.13 L805.58 1817.06 L809.33 1817.16 L813.11 1817.23 L816.86 1817.34 L820.68 1817.38 L824.39 1817.34 L828.19 1817.39 L831.98 1817.37 L835.71 1817.51 L839.51 1817.53 L843.32 1817.5 L847.06 1817.46 L850.86 1817.55 L854.61 1817.54 L858.39 1817.57 L862.19 1817.63 L865.99 1817.62 L869.79 1817.59 L873.47 1817.66 L877.31 1817.64 L881.09 1817.64 L884.79 1817.61 L888.67 1817.69 L892.4 1817.76 L896.12 1817.79 L899.95 1817.79 L903.66 1817.75 L907.45 1817.91 L911.31 1817.85 L915.08 1817.83 L918.89 1817.84 L922.59 1817.88 L926.4 1817.96 L930.15 1817.9 L933.92 1817.93 L937.67 1817.98 L941.43 1817.97 L945.27 1817.99 L949.05 1818.05 L952.77 1817.98 L956.55 1818.02 L960.25 1817.98 L964.12 1818.12 L967.94 1818.14 L971.61 1818.1 L975.46 1818.13 L979.22 1818.22 L982.96 1818.18 L986.7 1818.17 L990.54 1818.05 L994.38 1818.24 L998.03 1818.22 L1001.95 1818.31 L1005.62 1818.27 L1009.45 1818.24 L1013.21 1818.27 L1017.02 1818.3 L1020.77 1818.36 L1024.58 1818.34 L1028.31 1818.38 L1032.05 1818.32 L1035.89 1818.37 L1039.67 1818.46 L1043.4 1818.37 L1047.17 1818.45 L1050.96 1818.54 L1054.8 1818.43 L1058.49 1818.56 L1062.3 1818.45 L1066.11 1818.53 L1069.78 1818.53 L1073.56 1818.51 L1077.33 1818.53 L1081.19 1818.47 L1084.92 1818.53 L1088.78 1818.59 L1092.53 1818.6 L1096.32 1818.48 L1099.97 1818.59 L1103.86 1818.63 L1107.59 1818.7 L1111.39 1818.67 L1115.17 1818.67 L1118.96 1818.71 L1122.73 1818.7 L1126.38 1818.79 L1130.22 1818.6 L1134.11 1818.71 L1137.81 1818.72 L1141.62 1818.76 L1145.39 1818.7 L1149.12 1818.81 L1152.94 1818.84 L1156.68 1818.76 L1160.42 1818.8 L1164.25 1818.81 L1168.02 1818.87 L1171.71 1818.86 L1175.61 1818.81 L1179.33 1818.91 L1183.14 1818.77 L1186.8 1818.88 L1190.63 1818.9 L1194.41 1818.87 L1198.2 1818.9 L1201.96 1818.87 L1205.8 1818.9 L1209.61 1818.96 L1213.35 1819.01 L1217.08 1818.97 L1220.81 1818.97 L1224.64 1819.01 L1228.42 1818.97 L1232.16 1819.03 L1236 1818.9 L1239.79 1818.98 L1243.53 1819.02 L1247.27 1819.04 L1251.08 1819.01 L1254.86 1819.05 L1258.74 1819.06 L1262.4 1819.09 L1266.2 1819.02 L1269.95 1819.06 L1273.8 1819.11 L1277.53 1819.14 L1281.22 1819.16 L1285.01 1819.04 L1288.87 1819.09 L1292.67 1819.04 L1296.43 1819.09 L1300.13 1819.14 L1303.94 1819.13 L1307.79 1819.14 L1311.5 1819.2 L1315.31 1819.11 L1319.03 1819.13 L1322.8 1819.24 L1326.55 1819.1 L1330.44 1819.21 L1334.1 1819.18 L1337.9 1819.23 L1341.73 1819.16 L1345.56 1819.18 L1349.21 1819.21 L1353.05 1819.13 L1356.86 1819.2 L1360.6 1819.23 L1364.39 1819.2 L1368.12 1819.26 L1371.91 1819.23 L1375.7 1819.23 L1379.46 1819.25 L1383.3 1819.29 L1387.03 1819.23 L1390.8 1819.22 L1394.61 1819.23 L1398.42 1819.3 L1402.16 1819.32 L1405.84 1819.34 L1409.7 1819.33 L1413.43 1819.33 L1417.17 1819.3 L1420.97 1819.32 L1424.86 1819.38 L1428.58 1819.32 L1432.34 1819.35 L1436.11 1819.35 L1439.88 1819.28 L1443.61 1819.33 L1447.45 1819.35 L1451.17 1819.35 L1454.86 1819.37 L1458.79 1819.42 L1462.55 1819.48 L1466.33 1819.42 L1470.15 1819.48 L1473.94 1819.39 L1477.71 1819.49 L1481.41 1819.44 L1485.21 1819.49 L1488.94 1819.47 L1492.82 1819.43 L1496.57 1819.46 L1500.31 1819.58 L1504.02 1819.61 L1507.9 1819.52 L1511.66 1819.49 L1515.41 1819.58 L1519.16 1819.54 L1522.84 1819.52 L1526.8 1819.58 L1532.55 1819.55" stroke="#fdaa7b" stroke-width="3.4"/>
<path d="M170.6 1565.63 L174.72 1581.36 L178.45 1593.39 L182.94 1604.73 L186.45 1615.57 L189.8 1625.73 L194.9 1634.72 L197.69 1643.1 L201.74 1650.54 L204.89 1657.27 L209.05 1663.49 L213.3 1669.21 L216.52 1673.52 L220.05 1678.76 L223.99 1681.04 L228.19 1684.41 L231.61 1686.47 L235.22 1688.73 L239.34 1690.65 L242.7 1692.05 L247.41 1693.16 L250.75 1694.36 L254.75 1695.64 L258.41 1695.25 L261.87 1696.02 L265.57 1695.42 L269.38 1695.4 L273.19 1695.89 L276.72 1695.1 L280.83 1693.87 L284.62 1693.33 L288.08 1692.75 L292.51 1690.84 L296.2 1689.8 L299.7 1687.73 L303.08 1686.04 L307.15 1683.88 L310.96 1681.33 L314.96 1677.98 L318.43 1675.56 L322.73 1672.55 L326.07 1670.07 L329.31 1665.68 L334.01 1663.14 L337.57 1659.15 L341.04 1656.05 L344.71 1651.9 L348.98 1649.1 L351.93 1644.59 L356.16 1641.26 L359.63 1636.43 L363.88 1632.29 L367.16 1627.97 L370.8 1624.13 L375.3 1619.45 L378.8 1615.32 L383.22 1610.38 L386.48 1606.69 L389.91 1602.26 L394.09 1597.93 L397.39 1593.29 L402.18 1589.29 L405.52 1584.67 L408.86 1580.84 L413.25 1575.96 L416.47 1570.95 L420.61 1567.1 L424.25 1563.09 L428.38 1558.81 L431.79 1554.38 L435.61 1551.72 L438.97 1546.9 L443.18 1544.05 L447.64 1541.22 L451.26 1538.02 L454.3 1535.16 L457.81 1534.29 L461.95 1531.45 L465.57 1530.4 L469.22 1529.15 L473.77 1529.47 L477.4 1528.86 L480.41 1529.12 L483.9 1530.65 L488.51 1531.43 L492.37 1533.1 L496.63 1536.25 L500.04 1538.2 L503.28 1541.77 L507.49 1544.94 L511.78 1549.52 L514.89 1553.38 L517.94 1558.21 L521.98 1563.26 L526.32 1568.89 L529.89 1575.23 L534.19 1581.67 L537.59 1589.02 L541.02 1597.33 L544.85 1604.22 L549.3 1611.69 L552.23 1620.43 L556.01 1628.7 L559.07 1636.61 L563.31 1644.13 L567.92 1651.94 L571.55 1658.63 L575.15 1666.38 L578.98 1673.65 L582.61 1680.5 L586.58 1687.28 L590.37 1694.87 L593.93 1701.96 L598.16 1708.88 L602.17 1716.82 L605.89 1723.92 L608.08 1731.08 L612.53 1739.21 L617.44 1746.07 L620 1752.42 L624.5 1759.49 L628.46 1764.57 L632.33 1770.9 L635.65 1776.35 L639.08 1781.39 L643.7 1785.3 L646.79 1789.42 L650.93 1792.82 L654.57 1795.65 L658.27 1797.93 L661.94 1800.11 L665.72 1802.08 L669.71 1803.9 L673.38 1805.04 L677.11 1806.24 L681.07 1807.31 L684.69 1808.25 L688.62 1808.9 L692.3 1809.72 L696.06 1810.23 L699.91 1810.71 L703.4 1811.29 L707.42 1811.67 L711.27 1812.16 L715.06 1812.48 L718.7 1812.89 L722.5 1813.21 L726.28 1813.58 L729.93 1813.83 L733.75 1814.2 L737.5 1814.44 L741.36 1814.67 L745.18 1814.93 L748.9 1815.19 L752.69 1815.38 L756.45 1815.58 L760.19 1815.77 L764 1815.93 L767.83 1816.06 L771.49 1816.3 L775.26 1816.38 L779.18 1816.46 L782.93 1816.6 L786.61 1816.64 L790.43 1816.85 L794.22 1816.85 L798.01 1816.95 L801.78 1817.02 L805.53 1817.03 L809.32 1817.13 L813.15 1817.23 L816.92 1817.21 L820.66 1817.25 L824.42 1817.31 L828.17 1817.36 L831.96 1817.36 L835.73 1817.48 L839.53 1817.43 L843.29 1817.48 L847.14 1817.48 L850.89 1817.45 L854.66 1817.5 L858.33 1817.51 L862.18 1817.5 L865.93 1817.58 L869.74 1817.63 L873.57 1817.59 L877.23 1817.6 L881 1817.61 L884.89 1817.8 L888.57 1817.65 L892.31 1817.73 L896.18 1817.65 L899.87 1817.73 L903.69 1817.73 L907.44 1817.8 L911.3 1817.77 L915.02 1817.82 L918.79 1817.89 L922.56 1817.9 L926.41 1817.84 L930.17 1817.86 L933.91 1817.95 L937.64 1817.88 L941.46 1817.96 L945.29 1817.92 L948.98 1817.94 L952.79 1818.01 L956.7 1818.07 L960.34 1818.07 L964.18 1818.09 L967.85 1818.1 L971.69 1818.05 L975.46 1818.05 L979.3 1818.05 L983.05 1818.11 L986.79 1818.16 L990.52 1818.18 L994.31 1818.19 L998.19 1818.14 L1001.85 1818.12 L1005.67 1818.17 L1009.46 1818.18 L1013.34 1818.27 L1016.94 1818.23 L1020.78 1818.22 L1024.51 1818.17 L1028.35 1818.34 L1032.02 1818.35 L1035.91 1818.25 L1039.64 1818.32 L1043.41 1818.29 L1047.14 1818.34 L1050.96 1818.39 L1054.69 1818.36 L1058.52 1818.38 L1062.26 1818.47 L1066.1 1818.49 L1069.81 1818.47 L1073.64 1818.48 L1077.39 1818.45 L1081.14 1818.46 L1085 1818.43 L1088.73 1818.58 L1092.45 1818.55 L1096.29 1818.46 L1100.09 1818.53 L1103.85 1818.51 L1107.57 1818.56 L1111.37 1818.63 L1115.09 1818.62 L1119 1818.62 L1122.72 1818.6 L1126.43 1818.62 L1130.35 1818.62 L1134.01 1818.69 L1137.81 1818.62 L1141.58 1818.62 L1145.4 1818.76 L1149.1 1818.65 L1152.91 1818.66 L1156.68 1818.67 L1160.48 1818.66 L1164.25 1818.67 L1168.04 1818.71 L1171.73 1818.78 L1175.49 1818.73 L1179.39 1818.77 L1183.18 1818.77 L1186.8 1818.74 L1190.8 1818.84 L1194.41 1818.79 L1198.24 1818.77 L1201.97 1818.77 L1205.7 1818.83 L1209.56 1818.78 L1213.31 1818.8 L1217.14 1818.87 L1220.85 1818.81 L1224.69 1818.81 L1228.47 1818.79 L1232.24 1818.81 L1236.04 1818.9 L1239.81 1818.86 L1243.47 1818.9 L1247.29 1818.87 L1251.02 1818.88 L1254.84 1818.88 L1258.63 1818.96 L1262.41 1818.82 L1266.2 1818.85 L1269.92 1818.95 L1273.78 1818.96 L1277.57 1818.93 L1281.27 1818.94 L1285.09 1818.98 L1288.83 1818.99 L1292.7 1819.01 L1296.41 1818.92 L1300.23 1819.07 L1303.97 1819 L1307.7 1818.99 L1311.51 1818.99 L1315.31 1818.98 L1319.09 1819.05 L1322.8 1818.96 L1326.61 1819.07 L1330.34 1819.06 L1334.26 1819.02 L1337.95 1819 L1341.65 1819.06 L1345.48 1819 L1349.29 1819.05 L1353.05 1819.11 L1356.78 1819.04 L1360.6 1819.11 L1364.39 1819.09 L1368.21 1819.15 L1371.91 1819.11 L1375.68 1819.2 L1379.43 1819.12 L1383.26 1819.08 L1386.98 1819.12 L1390.72 1819.12 L1394.5 1819.19 L1398.36 1819.18 L1402.16 1819.15 L1405.92 1819.05 L1409.67 1819.25 L1413.51 1819.16 L1417.19 1819.13 L1421.05 1819.19 L1424.81 1819.16 L1428.6 1819.18 L1432.26 1819.2 L1436.1 1819.2 L1439.81 1819.25 L1443.56 1819.14 L1447.44 1819.19 L1451.22 1819.21 L1454.96 1819.24 L1458.69 1819.21 L1462.52 1819.3 L1466.28 1819.34 L1470.06 1819.33 L1473.79 1819.24 L1477.64 1819.23 L1481.41 1819.31 L1485.14 1819.38 L1488.92 1819.34 L1492.71 1819.25 L1496.55 1819.32 L1500.37 1819.4 L1504.06 1819.33 L1507.88 1819.34 L1511.63 1819.32 L1515.37 1819.39 L1519.12 1819.37 L1523.01 1819.39 L1526.71 1819.36 L1532.55 1819.37" stroke="#fecaab" stroke-width="3.4"/>
</g>
<g font-size="41.67" fill="#000">
<text x="18.5" y="1350.6">C.</text>
<text x="135.1" y="1833.7" text-anchor="end">0.0</text>
<text x="135.1" y="1739.04" text-anchor="end">0.5</text>
<text x="135.1" y="1644.38" text-anchor="end">1.0</text>
<text x="135.1" y="1549.72" text-anchor="end">1.5</text>
<text x="135.1" y="1455.06" text-anchor="end">2.0</text>
<text x="135.1" y="1360.4" text-anchor="end">2.5</text>
<text x="171.2" y="1883.3" text-anchor="middle">220</text>
<text x="322.23" y="1883.3" text-anchor="middle">240</text>
<text x="473.27" y="1883.3" text-anchor="middle">260</text>
<text x="624.3" y="1883.3" text-anchor="middle">280</text>
<text x="775.33" y="1883.3" text-anchor="middle">300</text>
<text x="926.37" y="1883.3" text-anchor="middle">320</text>
<text x="1077.4" y="1883.3" text-anchor="middle">340</text>
<text x="1228.43" y="1883.3" text-anchor="middle">360</text>
<text x="1379.47" y="1883.3" text-anchor="middle">380</text>
<text x="1530.5" y="1883.3" text-anchor="middle">400</text>
<text x="846.8" y="1936.3" text-anchor="middle" letter-spacing="0.13">Wavelength (nm)</text>
<text transform="translate(63.3 1612.5) rotate(-90)" text-anchor="middle" letter-spacing="0.27">Absorbance (a.u.)</text>
<text x="808" y="1410" text-anchor="middle" font-weight="bold" fill="#1a1617">Tris</text>
<text x="474" y="1413" text-anchor="middle" font-size="38" letter-spacing="0.3">260 nm</text>
<text x="1355.6" y="1402" letter-spacing="0.25">0 Days</text>
<text x="1355.6" y="1443.8" letter-spacing="0.25">6 Days</text>
<text x="1355.6" y="1486" letter-spacing="0.25">13 Days</text>
<text x="1355.6" y="1527.9" letter-spacing="0.25">34 Days</text>
<text x="1355.6" y="1571.1" letter-spacing="0.25">43 Days</text>
</g>
<g fill="none" stroke-linecap="butt">
<line x1="1279.2" y1="1388.9" x2="1349.2" y2="1388.9" stroke="#000000" stroke-width="3.5"/>
<line x1="1279.2" y1="1430.7" x2="1349.2" y2="1430.7" stroke="#8b3a10" stroke-width="2.8"/>
<line x1="1279.2" y1="1472.9" x2="1349.2" y2="1472.9" stroke="#de5b1b" stroke-width="3.8"/>
<line x1="1279.2" y1="1514.8" x2="1349.2" y2="1514.8" stroke="#fdaa7b" stroke-width="3"/>
<line x1="1279.2" y1="1558" x2="1349.2" y2="1558" stroke="#fecaab" stroke-width="3"/>
</g>
<line x1="476.1" y1="1428" x2="476.1" y2="1484.4" stroke="#000" stroke-width="3.3"/>
<polygon points="465.7,1483.4 486.5,1483.4 476.1,1504.7" fill="#000"/>
</g>
</svg>
</body>
</html>
